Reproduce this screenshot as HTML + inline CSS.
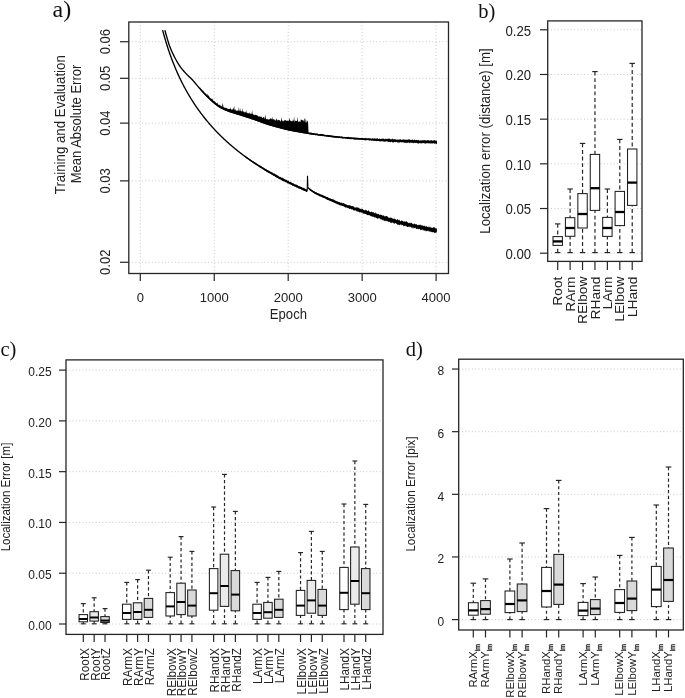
<!DOCTYPE html>
<html><head><meta charset="utf-8"><title>figure</title>
<style>html,body{margin:0;padding:0;background:#fff;overflow:hidden}svg{display:block} text{-webkit-font-smoothing:antialiased}</style></head>
<body><svg width="685" height="698" viewBox="0 0 685 698" style="will-change:transform">
<rect width="685" height="698" fill="#fff"/>
<line x1="128.80" y1="262.27" x2="448.50" y2="262.27" stroke="#c8c8c8" stroke-width="1" stroke-dasharray="1 2.3"/>
<line x1="128.80" y1="180.87" x2="448.50" y2="180.87" stroke="#c8c8c8" stroke-width="1" stroke-dasharray="1 2.3"/>
<line x1="128.80" y1="123.12" x2="448.50" y2="123.12" stroke="#c8c8c8" stroke-width="1" stroke-dasharray="1 2.3"/>
<line x1="128.80" y1="78.32" x2="448.50" y2="78.32" stroke="#c8c8c8" stroke-width="1" stroke-dasharray="1 2.3"/>
<line x1="128.80" y1="41.72" x2="448.50" y2="41.72" stroke="#c8c8c8" stroke-width="1" stroke-dasharray="1 2.3"/>
<line x1="140.30" y1="22.00" x2="140.30" y2="273.50" stroke="#c8c8c8" stroke-width="1" stroke-dasharray="1 2.3"/>
<line x1="214.25" y1="22.00" x2="214.25" y2="273.50" stroke="#c8c8c8" stroke-width="1" stroke-dasharray="1 2.3"/>
<line x1="288.20" y1="22.00" x2="288.20" y2="273.50" stroke="#c8c8c8" stroke-width="1" stroke-dasharray="1 2.3"/>
<line x1="362.15" y1="22.00" x2="362.15" y2="273.50" stroke="#c8c8c8" stroke-width="1" stroke-dasharray="1 2.3"/>
<line x1="436.10" y1="22.00" x2="436.10" y2="273.50" stroke="#c8c8c8" stroke-width="1" stroke-dasharray="1 2.3"/>
<polyline points="164.90,30.30 165.30,31.77 165.70,33.21 166.10,34.63 166.50,36.02 166.90,37.38 167.30,38.74 167.70,40.10 168.10,41.43 168.50,42.73 168.90,43.98 169.30,45.17 169.70,46.27 170.10,47.32 170.50,48.33 170.90,49.31 171.30,50.26 171.70,51.17 172.10,52.06 172.50,52.93 172.90,53.77 173.30,54.59 173.70,55.40 174.10,56.19 174.50,56.98 174.90,57.75 175.30,58.51 175.70,59.25 176.10,59.99 176.50,60.71 176.90,61.41 177.30,62.11 177.70,62.78 178.10,63.44 178.50,64.09 178.90,64.72 179.30,65.33 179.70,65.92 180.10,66.50 180.50,67.06 180.90,67.60 181.30,68.12 181.70,68.63 182.10,69.13 182.50,69.61 182.90,70.09 183.30,70.55 183.70,71.01 184.10,71.46 184.50,71.91 184.90,72.35 185.30,72.79 185.70,73.23 186.10,73.65 186.50,74.07 186.90,74.47 187.30,74.87 187.70,75.26 188.10,75.65 188.50,76.03 188.90,76.42 189.30,76.80 189.70,77.18 190.10,77.57 190.50,77.96 190.90,78.35 191.30,78.75 191.70,79.16 192.10,79.58 192.50,80.01 192.90,80.45 193.30,80.89 193.70,81.35 194.10,81.81 194.50,82.28 194.90,82.75 195.30,83.23 195.70,83.71 196.10,84.19 196.50,84.67 196.90,85.15 197.30,85.63 197.70,86.11 198.10,86.59 198.50,87.06 198.90,87.53 199.30,87.99 199.70,88.44 200.10,88.90 200.50,89.35 200.90,89.80 201.30,90.26 201.70,90.71 202.10,91.16 202.50,91.60 202.90,92.04 203.30,92.48 203.70,92.92 204.10,93.35 204.50,93.77 204.90,94.20 205.30,94.61 205.70,95.03 206.10,95.44 206.50,95.84 206.90,96.25 207.30,96.65 207.70,97.05 208.10,97.44 208.50,97.83 208.90,98.22 209.30,98.60 209.70,98.98 210.10,99.36 210.50,99.73 210.90,100.09 211.30,100.45 211.70,100.81 212.10,101.17 212.50,101.53 212.90,101.88 213.30,102.22 213.70,102.56 214.10,102.90 214.50,103.23 214.90,103.55 215.30,103.87 215.70,104.18 216.10,104.47 216.50,104.77 216.90,105.06 217.30,105.34 217.70,105.63 218.10,105.90 218.50,106.17 218.90,106.44 219.30,106.69 219.70,106.94 220.10,107.19 220.50,107.42 220.90,107.65 221.30,107.86 221.70,108.07 222.10,108.28 222.50,108.48 222.90,108.68 223.30,108.88 223.70,109.07 224.10,109.25 224.50,109.43 224.90,109.61 225.30,109.79 225.70,109.96 226.10,110.12 226.50,110.29 226.90,110.45 227.30,110.61 227.70,110.76 228.10,110.91 228.50,111.06 228.90,111.21 229.30,111.35 229.70,111.49 230.10,111.63 230.50,111.77 230.90,111.90 231.30,112.03 231.70,112.16 232.10,112.29 232.50,112.41 232.90,112.54 233.30,112.66 233.70,112.79 234.10,112.91 234.50,113.03 234.90,113.15 235.30,113.27 235.70,113.39 236.10,113.50 236.50,113.62 236.90,113.74 237.30,113.86 237.70,113.98 238.10,114.10 238.50,114.22 238.90,114.34 239.30,114.46 239.70,114.59 240.10,114.71 240.50,114.84 240.90,114.97 241.30,115.10 241.70,115.23 242.10,115.36 242.50,115.48 242.90,115.61 243.30,115.74 243.70,115.87 244.10,116.00 244.50,116.13 244.90,116.26 245.30,116.39 245.70,116.52 246.10,116.65 246.50,116.78 246.90,116.91 247.30,117.04 247.70,117.17 248.10,117.30 248.50,117.43 248.90,117.56 249.30,117.69 249.70,117.82 250.10,117.96 250.50,118.09 250.90,118.22 251.30,118.36 251.70,118.49 252.10,118.62 252.50,118.76 252.90,118.89 253.30,119.03 253.70,119.16 254.10,119.30 254.50,119.44 254.90,119.58 255.30,119.72 255.70,119.86 256.10,120.00 256.50,120.14 256.90,120.29 257.30,120.43 257.70,120.58 258.10,120.73 258.50,120.87 258.90,121.02 259.30,121.17 259.70,121.32 260.10,121.47 260.50,121.61 260.90,121.76 261.30,121.91 261.70,122.05 262.10,122.20 262.50,122.35 262.90,122.49 263.30,122.64 263.70,122.78 264.10,122.92 264.50,123.06 264.90,123.20 265.30,123.34 265.70,123.47 266.10,123.61 266.50,123.74 266.90,123.87 267.30,124.00 267.70,124.13 268.10,124.25 268.50,124.38 268.90,124.50 269.30,124.63 269.70,124.75 270.10,124.87 270.50,124.99 270.90,125.11 271.30,125.23 271.70,125.35 272.10,125.46 272.50,125.58 272.90,125.70 273.30,125.81 273.70,125.92 274.10,126.04 274.50,126.15 274.90,126.26 275.30,126.37 275.70,126.48 276.10,126.59 276.50,126.70 276.90,126.81 277.30,126.92 277.70,127.03 278.10,127.13 278.50,127.24 278.90,127.35 279.30,127.45 279.70,127.56 280.10,127.67 280.50,127.77 280.90,127.88 281.30,127.98 281.70,128.09 282.10,128.19 282.50,128.29 282.90,128.40 283.30,128.50 283.70,128.60 284.10,128.70 284.50,128.80 284.90,128.90 285.30,129.00 285.70,129.09 286.10,129.19 286.50,129.28 286.90,129.38 287.30,129.47 287.70,129.56 288.10,129.65 288.50,129.74 288.90,129.83 289.30,129.92 289.70,130.00 290.10,130.08 290.50,130.17 290.90,130.25 291.30,130.33 291.70,130.41 292.10,130.48 292.50,130.56 292.90,130.64 293.30,130.71 293.70,130.79 294.10,130.86 294.50,130.93 294.90,131.01 295.30,131.08 295.70,131.15 296.10,131.22 296.50,131.29 296.90,131.36 297.30,131.43 297.70,131.50 298.10,131.57 298.50,131.64 298.90,131.71 299.30,131.78 299.70,131.85 300.10,131.92 300.50,131.99 300.90,132.06 301.30,132.13 301.70,132.20 302.10,132.26 302.50,132.33 302.90,132.40 303.30,132.47 303.70,132.54 304.10,132.60 304.50,132.67 304.90,132.74 305.30,132.80 305.70,132.87 306.10,132.93 306.50,133.00 306.90,133.06 307.30,133.12 307.70,133.18 308.10,133.25 308.50,133.31 308.90,133.37 309.30,133.43 309.70,133.48 310.10,133.54 310.50,133.60 310.90,133.66 311.30,133.72 311.70,133.77 312.10,133.83 312.50,133.89 312.90,133.94 313.30,134.00 313.70,134.05 314.10,134.11 314.50,134.17 314.90,134.22 315.30,134.27 315.70,134.33 316.10,134.38 316.50,134.44 316.90,134.49 317.30,134.54 317.70,134.60 318.10,134.65 318.50,134.70 318.90,134.76 319.30,134.81 319.70,134.86 320.10,134.91 320.50,134.97 320.90,135.02 321.30,135.07 321.70,135.12 322.10,135.18 322.50,135.23 322.90,135.28 323.30,135.34 323.70,135.39 324.10,135.44 324.50,135.50 324.90,135.55 325.30,135.60 325.70,135.66 326.10,135.71 326.50,135.76 326.90,135.81 327.30,135.87 327.70,135.92 328.10,135.97 328.50,136.02 328.90,136.07 329.30,136.12 329.70,136.17 330.10,136.22 330.50,136.27 330.90,136.32 331.30,136.37 331.70,136.42 332.10,136.46 332.50,136.51 332.90,136.56 333.30,136.60 333.70,136.65 334.10,136.70 334.50,136.74 334.90,136.78 335.30,136.83 335.70,136.87 336.10,136.91 336.50,136.95 336.90,136.99 337.30,137.03 337.70,137.07 338.10,137.11 338.50,137.15 338.90,137.18 339.30,137.22 339.70,137.26 340.10,137.30 340.50,137.33 340.90,137.37 341.30,137.41 341.70,137.44 342.10,137.48 342.50,137.52 342.90,137.55 343.30,137.59 343.70,137.62 344.10,137.66 344.50,137.69 344.90,137.73 345.30,137.76 345.70,137.80 346.10,137.83 346.50,137.86 346.90,137.90 347.30,137.93 347.70,137.96 348.10,137.99 348.50,138.03 348.90,138.06 349.30,138.09 349.70,138.12 350.10,138.15 350.50,138.18 350.90,138.22 351.30,138.25 351.70,138.28 352.10,138.31 352.50,138.34 352.90,138.37 353.30,138.40 353.70,138.43 354.10,138.46 354.50,138.49 354.90,138.52 355.30,138.54 355.70,138.57 356.10,138.60 356.50,138.63 356.90,138.66 357.30,138.69 357.70,138.71 358.10,138.74 358.50,138.77 358.90,138.80 359.30,138.82 359.70,138.85 360.10,138.88 360.50,138.90 360.90,138.93 361.30,138.95 361.70,138.98 362.10,139.01 362.50,139.03 362.90,139.06 363.30,139.08 363.70,139.11 364.10,139.13 364.50,139.16 364.90,139.18 365.30,139.21 365.70,139.23 366.10,139.26 366.50,139.28 366.90,139.31 367.30,139.33 367.70,139.36 368.10,139.38 368.50,139.40 368.90,139.43 369.30,139.45 369.70,139.48 370.10,139.50 370.50,139.52 370.90,139.55 371.30,139.57 371.70,139.59 372.10,139.62 372.50,139.64 372.90,139.66 373.30,139.69 373.70,139.71 374.10,139.73 374.50,139.75 374.90,139.78 375.30,139.80 375.70,139.82 376.10,139.84 376.50,139.86 376.90,139.89 377.30,139.91 377.70,139.93 378.10,139.95 378.50,139.97 378.90,139.99 379.30,140.02 379.70,140.04 380.10,140.06 380.50,140.08 380.90,140.10 381.30,140.12 381.70,140.14 382.10,140.16 382.50,140.18 382.90,140.20 383.30,140.22 383.70,140.25 384.10,140.27 384.50,140.29 384.90,140.31 385.30,140.33 385.70,140.35 386.10,140.37 386.50,140.38 386.90,140.40 387.30,140.42 387.70,140.44 388.10,140.46 388.50,140.48 388.90,140.50 389.30,140.52 389.70,140.54 390.10,140.56 390.50,140.58 390.90,140.60 391.30,140.61 391.70,140.63 392.10,140.65 392.50,140.67 392.90,140.69 393.30,140.71 393.70,140.72 394.10,140.74 394.50,140.76 394.90,140.78 395.30,140.80 395.70,140.81 396.10,140.83 396.50,140.85 396.90,140.87 397.30,140.88 397.70,140.90 398.10,140.92 398.50,140.94 398.90,140.95 399.30,140.97 399.70,140.99 400.10,141.00 400.50,141.02 400.90,141.04 401.30,141.05 401.70,141.07 402.10,141.09 402.50,141.10 402.90,141.12 403.30,141.14 403.70,141.15 404.10,141.17 404.50,141.19 404.90,141.20 405.30,141.22 405.70,141.24 406.10,141.25 406.50,141.27 406.90,141.28 407.30,141.30 407.70,141.32 408.10,141.33 408.50,141.35 408.90,141.36 409.30,141.38 409.70,141.39 410.10,141.41 410.50,141.42 410.90,141.44 411.30,141.46 411.70,141.47 412.10,141.49 412.50,141.50 412.90,141.52 413.30,141.53 413.70,141.55 414.10,141.56 414.50,141.58 414.90,141.59 415.30,141.61 415.70,141.62 416.10,141.64 416.50,141.65 416.90,141.66 417.30,141.68 417.70,141.69 418.10,141.71 418.50,141.72 418.90,141.74 419.30,141.75 419.70,141.76 420.10,141.78 420.50,141.79 420.90,141.81 421.30,141.82 421.70,141.83 422.10,141.85 422.50,141.86 422.90,141.87 423.30,141.89 423.70,141.90 424.10,141.91 424.50,141.93 424.90,141.94 425.30,141.95 425.70,141.97 426.10,141.98 426.50,141.99 426.90,142.01 427.30,142.02 427.70,142.03 428.10,142.04 428.50,142.06 428.90,142.07 429.30,142.08 429.70,142.09 430.10,142.10 430.50,142.12 430.90,142.13 431.30,142.14 431.70,142.15 432.10,142.16 432.50,142.18 432.90,142.19 433.30,142.20 433.70,142.21 434.10,142.22 434.50,142.23 434.90,142.24 435.30,142.25 435.70,142.27 436.10,142.28 436.50,142.29 436.90,142.30" fill="none" stroke="#000" stroke-width="1.35"/>
<polygon points="200.10,87.52 200.50,87.85 200.90,88.65 201.30,89.31 201.70,89.15 202.10,89.96 202.50,90.43 202.90,90.67 203.30,90.73 203.70,91.43 204.10,92.15 204.50,92.27 204.90,93.11 205.30,93.19 205.70,93.46 206.10,93.96 206.50,94.72 206.90,94.60 207.30,93.43 207.70,95.78 208.10,95.61 208.50,96.02 208.90,95.02 209.30,97.01 209.70,97.49 210.10,98.08 210.50,98.23 210.90,98.22 211.30,98.44 211.70,99.07 212.10,99.36 212.50,99.89 212.90,98.30 213.30,100.74 213.70,101.01 214.10,101.07 214.50,101.26 214.90,101.53 215.30,102.41 215.70,102.12 216.10,102.98 216.50,102.92 216.90,103.40 217.30,101.93 217.70,103.89 218.10,104.27 218.50,104.75 218.90,105.01 219.30,104.56 219.70,105.20 220.10,105.11 220.50,105.55 220.90,105.94 221.30,105.84 221.70,106.51 222.10,106.82 222.50,103.66 222.90,103.22 223.30,106.81 223.70,107.04 224.10,107.62 224.50,107.81 224.90,107.40 225.30,107.99 225.70,107.66 226.10,107.76 226.50,108.22 226.90,108.16 227.30,108.51 227.70,108.63 228.10,108.99 228.50,108.75 228.90,109.05 229.30,108.83 229.70,108.96 230.10,109.27 230.50,107.32 230.90,109.00 231.30,109.70 231.70,109.49 232.10,109.43 232.50,109.26 232.90,109.60 233.30,107.31 233.70,109.63 234.10,105.49 234.50,109.73 234.90,110.05 235.30,109.00 235.70,110.45 236.10,110.59 236.50,110.81 236.90,110.78 237.30,111.00 237.70,110.18 238.10,110.38 238.50,110.66 238.90,106.87 239.30,110.46 239.70,111.48 240.10,107.91 240.50,110.87 240.90,110.88 241.30,111.76 241.70,111.02 242.10,111.45 242.50,108.02 242.90,111.56 243.30,111.45 243.70,111.63 244.10,111.51 244.50,112.62 244.90,112.49 245.30,111.71 245.70,112.65 246.10,109.61 246.50,113.00 246.90,112.24 247.30,112.91 247.70,113.21 248.10,113.17 248.50,113.59 248.90,113.05 249.30,113.80 249.70,111.95 250.10,114.01 250.50,113.87 250.90,113.23 251.30,114.19 251.70,113.36 252.10,110.02 252.50,113.74 252.90,114.01 253.30,114.97 253.70,114.16 254.10,114.96 254.50,114.43 254.90,115.41 255.30,114.63 255.70,114.87 256.10,114.71 256.50,115.07 256.90,115.40 257.30,115.38 257.70,115.57 258.10,116.18 258.50,116.80 258.90,116.24 259.30,116.37 259.70,116.75 260.10,116.14 260.50,117.35 260.90,116.29 261.30,116.81 261.70,116.64 262.10,117.93 262.50,118.02 262.90,117.50 263.30,117.37 263.70,117.25 264.10,116.21 264.50,118.77 264.90,118.48 265.30,113.91 265.70,117.87 266.10,118.93 266.50,119.07 266.90,119.47 267.30,119.45 267.70,118.45 268.10,119.56 268.50,119.50 268.90,119.54 269.30,119.06 269.70,119.48 270.10,118.78 270.50,118.04 270.90,118.76 271.30,118.76 271.70,119.58 272.10,116.49 272.50,118.43 272.90,119.80 273.30,119.33 273.70,119.37 274.10,119.26 274.50,119.50 274.90,120.58 275.30,120.64 275.70,119.88 276.10,119.28 276.50,118.17 276.90,120.05 277.30,120.66 277.70,119.88 278.10,119.42 278.50,120.51 278.90,119.68 279.30,120.04 279.70,120.31 280.10,121.35 280.50,121.49 280.90,120.55 281.30,120.03 281.70,116.83 282.10,120.42 282.50,121.61 282.90,120.29 283.30,121.59 283.70,121.27 284.10,119.76 284.50,120.77 284.90,120.18 285.30,119.95 285.70,120.41 286.10,120.28 286.50,120.97 286.90,121.01 287.30,121.06 287.70,120.11 288.10,121.19 288.50,121.09 288.90,120.03 289.30,117.55 289.70,119.83 290.10,120.64 290.50,120.33 290.90,121.05 291.30,121.42 291.70,121.05 292.10,121.28 292.50,121.24 292.90,119.62 293.30,121.25 293.70,119.80 294.10,116.28 294.50,121.47 294.90,121.81 295.30,119.96 295.70,121.02 296.10,121.07 296.50,120.81 296.90,121.51 297.30,116.43 297.70,119.99 298.10,122.32 298.50,121.76 298.90,121.36 299.30,121.74 299.70,120.90 300.10,121.93 300.50,121.67 300.90,119.02 301.30,120.13 301.70,119.55 302.10,120.15 302.50,119.65 302.90,120.65 303.30,120.22 303.70,121.87 304.10,118.28 304.50,118.69 304.90,122.19 305.30,117.46 305.70,122.24 306.10,122.77 306.50,122.27 306.90,120.08 307.30,120.69 307.70,121.40 308.10,122.31 308.50,132.17 308.90,132.74 309.30,132.47 309.70,132.76 310.10,132.41 310.50,132.81 310.90,132.56 311.30,132.52 311.70,132.77 312.10,132.89 312.50,132.92 312.90,133.04 313.30,132.97 313.70,133.20 314.10,133.06 314.50,133.52 314.90,133.51 315.30,133.41 315.70,133.56 316.10,133.37 316.50,133.59 316.90,133.42 317.30,133.86 317.70,133.58 318.10,133.89 318.50,133.94 318.90,134.08 319.30,134.14 319.70,134.24 320.10,133.81 320.50,134.20 320.90,134.05 321.30,134.09 321.70,134.01 322.10,134.12 322.50,134.19 322.90,134.25 323.30,134.50 323.70,134.21 324.10,134.72 324.50,134.73 324.90,134.43 325.30,134.83 325.70,135.01 326.10,134.95 326.50,135.12 326.90,135.08 327.30,134.71 327.70,134.97 328.10,135.32 328.50,134.89 328.90,134.99 329.30,135.16 329.70,135.05 330.10,135.31 330.50,135.22 330.90,135.56 331.30,135.49 331.70,135.24 332.10,135.84 332.50,135.82 332.90,135.62 333.30,135.66 333.70,135.86 334.10,135.64 334.50,135.66 334.90,136.06 335.30,135.93 335.70,135.90 336.10,136.23 336.50,135.91 336.90,136.23 337.30,136.10 337.70,136.13 338.10,136.02 338.50,136.48 338.90,136.48 339.30,136.08 339.70,136.46 340.10,136.42 340.50,136.69 340.90,136.48 341.30,136.36 341.70,136.76 342.10,136.29 342.50,136.85 342.90,136.77 343.30,136.98 343.70,136.93 344.10,136.66 344.50,136.99 344.90,136.96 345.30,137.03 345.70,136.92 346.10,136.88 346.50,137.24 346.90,136.84 347.30,137.09 347.70,137.12 348.10,136.84 348.50,136.98 348.90,137.37 349.30,137.13 349.70,137.43 350.10,137.27 350.50,137.00 350.90,137.54 351.30,137.59 351.70,137.48 352.10,137.69 352.50,137.37 352.90,137.43 353.30,137.46 353.70,137.42 354.10,137.76 354.50,137.64 354.90,137.38 355.30,137.78 355.70,137.41 356.10,137.78 356.50,137.79 356.90,137.60 357.30,137.82 357.70,137.85 358.10,138.10 358.50,137.83 358.90,137.71 359.30,138.08 359.70,138.07 360.10,138.05 360.50,137.91 360.90,138.25 361.30,137.86 361.70,137.95 362.10,138.12 362.50,138.23 362.90,138.02 363.30,138.34 363.70,138.41 364.10,138.34 364.50,138.36 364.90,138.32 365.30,137.84 365.70,138.53 366.10,138.14 366.50,138.35 366.90,138.61 367.30,138.22 367.70,138.50 368.10,138.62 368.50,137.98 368.90,138.55 369.30,138.72 369.70,137.98 370.10,138.25 370.50,138.53 370.90,138.62 371.30,138.72 371.70,138.75 372.10,138.09 372.50,138.59 372.90,138.21 373.30,138.43 373.70,138.84 374.10,138.43 374.50,138.23 374.90,138.51 375.30,138.19 375.70,138.89 376.10,138.28 376.50,138.62 376.90,139.03 377.30,138.15 377.70,138.27 378.10,138.81 378.50,139.12 378.90,138.95 379.30,138.66 379.70,138.28 380.10,138.91 380.50,138.70 380.90,139.18 381.30,138.64 381.70,138.72 382.10,138.81 382.50,138.29 382.90,139.14 383.30,138.43 383.70,138.55 384.10,139.12 384.50,139.34 384.90,139.16 385.30,138.31 385.70,139.34 386.10,138.68 386.50,139.15 386.90,138.83 387.30,138.88 387.70,138.72 388.10,138.43 388.50,138.93 388.90,138.50 389.30,138.58 389.70,138.68 390.10,138.84 390.50,139.51 390.90,138.95 391.30,139.19 391.70,139.32 392.10,139.53 392.50,138.52 392.90,138.62 393.30,139.49 393.70,139.48 394.10,138.69 394.50,139.14 394.90,139.16 395.30,139.65 395.70,138.85 396.10,139.66 396.50,139.53 396.90,139.64 397.30,139.38 397.70,139.66 398.10,139.57 398.50,139.38 398.90,139.66 399.30,139.60 399.70,139.51 400.10,138.95 400.50,139.91 400.90,138.85 401.30,139.69 401.70,140.05 402.10,139.83 402.50,139.54 402.90,139.74 403.30,139.16 403.70,139.48 404.10,139.52 404.50,139.67 404.90,139.73 405.30,140.08 405.70,139.32 406.10,139.94 406.50,139.40 406.90,139.79 407.30,140.09 407.70,139.45 408.10,139.28 408.50,139.79 408.90,139.26 409.30,139.54 409.70,139.27 410.10,140.37 410.50,139.70 410.90,139.84 411.30,139.80 411.70,140.03 412.10,139.76 412.50,139.38 412.90,139.83 413.30,140.09 413.70,140.40 414.10,139.78 414.50,139.64 414.90,139.52 415.30,140.46 415.70,140.08 416.10,140.02 416.50,139.99 416.90,139.64 417.30,139.97 417.70,140.14 418.10,140.59 418.50,140.02 418.90,139.79 419.30,140.68 419.70,140.53 420.10,140.39 420.50,140.04 420.90,140.79 421.30,140.39 421.70,140.17 422.10,139.94 422.50,140.51 422.90,140.32 423.30,140.17 423.70,140.37 424.10,140.22 424.50,139.79 424.90,140.45 425.30,139.89 425.70,140.40 426.10,140.40 426.50,140.65 426.90,140.01 427.30,140.00 427.70,140.42 428.10,140.10 428.50,139.90 428.90,140.70 429.30,140.02 429.70,140.94 430.10,140.81 430.50,140.35 430.90,140.17 431.30,140.57 431.70,139.96 432.10,140.55 432.50,140.70 432.90,140.52 433.30,140.09 433.70,140.96 434.10,140.37 434.50,140.15 434.90,140.12 435.30,141.25 435.70,140.11 436.10,141.20 436.50,140.19 436.90,140.44 436.90,143.97 436.50,144.06 436.10,143.81 435.70,143.85 435.30,143.50 434.90,143.37 434.50,143.94 434.10,143.38 433.70,143.19 433.30,143.17 432.90,143.37 432.50,143.31 432.10,143.89 431.70,143.13 431.30,143.48 430.90,143.17 430.50,143.84 430.10,143.37 429.70,143.44 429.30,143.41 428.90,143.08 428.50,143.74 428.10,143.00 427.70,143.01 427.30,143.47 426.90,143.17 426.50,143.01 426.10,143.75 425.70,143.60 425.30,143.49 424.90,143.39 424.50,143.13 424.10,143.34 423.70,143.15 423.30,142.84 422.90,143.57 422.50,142.84 422.10,143.34 421.70,143.19 421.30,143.46 420.90,142.88 420.50,143.53 420.10,143.21 419.70,142.90 419.30,143.29 418.90,143.42 418.50,143.42 418.10,143.39 417.70,143.29 417.30,143.46 416.90,142.62 416.50,143.22 416.10,142.80 415.70,142.65 415.30,143.18 414.90,142.57 414.50,142.74 414.10,142.73 413.70,143.23 413.30,143.30 412.90,142.42 412.50,142.70 412.10,143.13 411.70,142.65 411.30,142.52 410.90,142.38 410.50,142.39 410.10,143.20 409.70,143.15 409.30,142.65 408.90,142.55 408.50,142.50 408.10,142.65 407.70,142.68 407.30,142.77 406.90,142.88 406.50,142.55 406.10,143.04 405.70,142.79 405.30,142.63 404.90,142.56 404.50,142.86 404.10,142.64 403.70,142.18 403.30,142.76 402.90,142.12 402.50,142.54 402.10,142.07 401.70,142.12 401.30,142.82 400.90,141.96 400.50,142.04 400.10,142.51 399.70,142.34 399.30,142.68 398.90,142.50 398.50,142.65 398.10,142.18 397.70,142.40 397.30,142.17 396.90,142.29 396.50,141.87 396.10,141.74 395.70,142.54 395.30,141.81 394.90,141.94 394.50,141.84 394.10,142.20 393.70,142.41 393.30,142.48 392.90,142.31 392.50,142.45 392.10,142.15 391.70,142.09 391.30,141.58 390.90,141.84 390.50,142.20 390.10,142.29 389.70,141.74 389.30,141.67 388.90,141.65 388.50,141.78 388.10,142.18 387.70,141.47 387.30,141.55 386.90,141.60 386.50,141.27 386.10,141.27 385.70,141.56 385.30,141.63 384.90,141.55 384.50,141.71 384.10,141.78 383.70,141.55 383.30,141.56 382.90,141.36 382.50,141.11 382.10,141.74 381.70,141.36 381.30,140.98 380.90,141.68 380.50,140.96 380.10,141.58 379.70,141.08 379.30,141.47 378.90,141.32 378.50,141.09 378.10,141.11 377.70,141.00 377.30,140.86 376.90,141.27 376.50,140.76 376.10,141.17 375.70,141.07 375.30,140.60 374.90,140.54 374.50,140.94 374.10,141.13 373.70,140.62 373.30,140.84 372.90,140.85 372.50,140.42 372.10,140.56 371.70,140.41 371.30,140.70 370.90,140.27 370.50,140.25 370.10,140.26 369.70,140.74 369.30,140.30 368.90,140.56 368.50,140.36 368.10,140.08 367.70,140.23 367.30,140.05 366.90,140.00 366.50,140.14 366.10,140.33 365.70,140.19 365.30,140.40 364.90,140.18 364.50,140.36 364.10,139.92 363.70,140.28 363.30,140.10 362.90,140.00 362.50,139.84 362.10,139.93 361.70,139.62 361.30,139.72 360.90,139.89 360.50,139.60 360.10,139.64 359.70,139.83 359.30,139.56 358.90,139.51 358.50,139.70 358.10,139.72 357.70,139.38 357.30,139.48 356.90,139.49 356.50,139.42 356.10,139.67 355.70,139.65 355.30,139.37 354.90,139.61 354.50,139.48 354.10,139.46 353.70,139.53 353.30,139.37 352.90,139.20 352.50,138.97 352.10,139.37 351.70,139.35 351.30,138.89 350.90,139.27 350.50,139.13 350.10,138.82 349.70,139.08 349.30,139.16 348.90,138.88 348.50,138.75 348.10,138.75 347.70,139.00 347.30,138.91 346.90,138.62 346.50,138.63 346.10,138.57 345.70,138.57 345.30,138.43 344.90,138.35 344.50,138.36 344.10,138.51 343.70,138.45 343.30,138.62 342.90,138.54 342.50,138.52 342.10,138.46 341.70,138.22 341.30,138.23 340.90,138.23 340.50,138.02 340.10,138.36 339.70,137.96 339.30,137.84 338.90,138.21 338.50,137.87 338.10,138.17 337.70,137.72 337.30,137.97 336.90,137.78 336.50,137.75 336.10,137.78 335.70,137.88 335.30,137.51 334.90,137.67 334.50,137.61 334.10,137.59 333.70,137.54 333.30,137.53 332.90,137.64 332.50,137.15 332.10,137.26 331.70,137.18 331.30,137.20 330.90,137.33 330.50,136.91 330.10,137.01 329.70,136.77 329.30,137.15 328.90,136.70 328.50,136.86 328.10,136.63 327.70,136.77 327.30,136.60 326.90,136.78 326.50,136.59 326.10,136.39 325.70,136.37 325.30,136.36 324.90,136.37 324.50,136.33 324.10,136.41 323.70,136.35 323.30,135.95 322.90,136.23 322.50,136.02 322.10,136.10 321.70,135.87 321.30,135.90 320.90,135.78 320.50,135.95 320.10,135.56 319.70,135.74 319.30,135.67 318.90,135.76 318.50,135.65 318.10,135.72 317.70,135.30 317.30,135.54 316.90,135.21 316.50,135.04 316.10,135.41 315.70,135.38 315.30,135.34 314.90,134.97 314.50,134.83 314.10,134.88 313.70,135.08 313.30,134.95 312.90,134.55 312.50,134.66 312.10,134.91 311.70,134.71 311.30,134.62 310.90,134.72 310.50,134.22 310.10,134.20 309.70,134.56 309.30,134.41 308.90,134.30 308.50,134.24 308.10,134.05 307.70,133.98 307.30,133.92 306.90,133.86 306.50,133.80 306.10,133.73 305.70,133.67 305.30,133.60 304.90,133.54 304.50,133.47 304.10,133.40 303.70,133.34 303.30,133.27 302.90,133.20 302.50,133.13 302.10,133.06 301.70,133.00 301.30,132.93 300.90,132.86 300.50,132.79 300.10,132.72 299.70,132.65 299.30,132.58 298.90,132.51 298.50,132.44 298.10,132.37 297.70,132.30 297.30,132.23 296.90,132.16 296.50,132.09 296.10,132.02 295.70,131.95 295.30,131.88 294.90,131.81 294.50,131.73 294.10,131.66 293.70,131.59 293.30,131.51 292.90,131.44 292.50,131.36 292.10,131.28 291.70,131.21 291.30,131.13 290.90,131.05 290.50,130.97 290.10,130.88 289.70,130.80 289.30,130.72 288.90,130.63 288.50,130.54 288.10,130.45 287.70,130.36 287.30,130.27 286.90,130.18 286.50,130.08 286.10,129.99 285.70,129.89 285.30,129.80 284.90,129.70 284.50,129.60 284.10,129.50 283.70,129.40 283.30,129.30 282.90,129.20 282.50,129.09 282.10,128.99 281.70,128.89 281.30,128.78 280.90,128.68 280.50,128.57 280.10,128.47 279.70,128.36 279.30,128.25 278.90,128.15 278.50,128.04 278.10,127.93 277.70,127.83 277.30,127.72 276.90,127.61 276.50,127.50 276.10,127.39 275.70,127.28 275.30,127.17 274.90,127.06 274.50,126.95 274.10,126.84 273.70,126.72 273.30,126.61 272.90,126.50 272.50,126.38 272.10,126.26 271.70,126.15 271.30,126.03 270.90,125.91 270.50,125.79 270.10,125.67 269.70,125.55 269.30,125.43 268.90,125.30 268.50,125.18 268.10,125.05 267.70,124.93 267.30,124.80 266.90,124.67 266.50,124.54 266.10,124.41 265.70,124.27 265.30,124.14 264.90,124.00 264.50,123.86 264.10,123.72 263.70,123.58 263.30,123.44 262.90,123.29 262.50,123.15 262.10,123.00 261.70,122.85 261.30,122.71 260.90,122.56 260.50,122.41 260.10,122.27 259.70,122.12 259.30,121.97 258.90,121.82 258.50,121.67 258.10,121.53 257.70,121.38 257.30,121.23 256.90,121.09 256.50,120.94 256.10,120.80 255.70,120.66 255.30,120.52 254.90,120.38 254.50,120.24 254.10,120.10 253.70,119.96 253.30,119.83 252.90,119.69 252.50,119.56 252.10,119.42 251.70,119.29 251.30,119.16 250.90,119.02 250.50,118.89 250.10,118.76 249.70,118.62 249.30,118.49 248.90,118.36 248.50,118.23 248.10,118.10 247.70,117.97 247.30,117.84 246.90,117.71 246.50,117.58 246.10,117.45 245.70,117.32 245.30,117.19 244.90,117.06 244.50,116.93 244.10,116.80 243.70,116.67 243.30,116.54 242.90,116.41 242.50,116.28 242.10,116.16 241.70,116.03 241.30,115.90 240.90,115.77 240.50,115.64 240.10,115.51 239.70,115.39 239.30,115.26 238.90,115.14 238.50,115.02 238.10,114.90 237.70,114.78 237.30,114.66 236.90,114.54 236.50,114.42 236.10,114.30 235.70,114.19 235.30,114.07 234.90,113.95 234.50,113.83 234.10,113.71 233.70,113.59 233.30,113.46 232.90,113.34 232.50,113.21 232.10,113.09 231.70,112.96 231.30,112.83 230.90,112.70 230.50,112.57 230.10,112.43 229.70,112.29 229.30,112.15 228.90,112.01 228.50,111.86 228.10,111.71 227.70,111.56 227.30,111.41 226.90,111.25 226.50,111.09 226.10,110.92 225.70,110.76 225.30,110.59 224.90,110.41 224.50,110.23 224.10,110.05 223.70,109.87 223.30,109.68 222.90,109.48 222.50,109.28 222.10,109.08 221.70,108.87 221.30,108.66 220.90,108.45 220.50,108.22 220.10,107.99 219.70,107.74 219.30,107.49 218.90,107.24 218.50,106.97 218.10,106.70 217.70,106.43 217.30,106.14 216.90,105.86 216.50,105.57 216.10,105.27 215.70,104.98 215.30,104.67 214.90,104.35 214.50,104.03 214.10,103.70 213.70,103.36 213.30,103.02 212.90,102.68 212.50,102.33 212.10,101.97 211.70,101.61 211.30,101.25 210.90,100.89 210.50,100.53 210.10,100.16 209.70,99.78 209.30,99.40 208.90,99.02 208.50,98.63 208.10,98.24 207.70,97.85 207.30,97.45 206.90,97.05 206.50,96.64 206.10,96.24 205.70,95.83 205.30,95.41 204.90,95.00 204.50,94.57 204.10,94.15 203.70,93.72 203.30,93.28 202.90,92.84 202.50,92.40 202.10,91.96 201.70,91.51 201.30,91.06 200.90,90.60 200.50,90.15 200.10,89.70" fill="#000"/>
<polyline points="162.60,30.09 163.00,31.59 163.40,33.07 163.80,34.52 164.20,35.95 164.60,37.35 165.00,38.73 165.40,40.09 165.80,41.42 166.20,42.74 166.60,44.03 167.00,45.30 167.40,46.55 167.80,47.79 168.20,49.00 168.60,50.20 169.00,51.38 169.40,52.54 169.80,53.69 170.20,54.82 170.60,55.93 171.00,57.03 171.40,58.12 171.80,59.19 172.20,60.25 172.60,61.29 173.00,62.32 173.40,63.34 173.80,64.34 174.20,65.33 174.60,66.31 175.00,67.28 175.40,68.24 175.80,69.18 176.20,70.12 176.60,71.04 177.00,71.95 177.40,72.86 177.80,73.75 178.20,74.63 178.60,75.51 179.00,76.37 179.40,77.22 179.80,78.07 180.20,78.90 180.60,79.73 181.00,80.55 181.40,81.36 181.80,82.16 182.20,82.96 182.60,83.74 183.00,84.52 183.40,85.29 183.80,86.06 184.20,86.81 184.60,87.56 185.00,88.30 185.40,89.04 185.80,89.77 186.20,90.49 186.60,91.20 187.00,91.91 187.40,92.61 187.80,93.31 188.20,94.00 188.60,94.68 189.00,95.36 189.40,96.03 189.80,96.70 190.20,97.36 190.60,98.01 191.00,98.66 191.40,99.30 191.80,99.94 192.20,100.58 192.60,101.20 193.00,101.83 193.40,102.45 193.80,103.06 194.20,103.67 194.60,104.27 195.00,104.87 195.40,105.46 195.80,106.05 196.20,106.64 196.60,107.22 197.00,107.79 197.40,108.37 197.80,108.93 198.20,109.50 198.60,110.06 199.00,110.61 199.40,111.16 199.80,111.71 200.20,112.25 200.60,112.79 201.00,113.33 201.40,113.86 201.80,114.39 202.20,114.91 202.60,115.43 203.00,115.95 203.40,116.46 203.80,116.97 204.20,117.48 204.60,117.98 205.00,118.48 205.40,118.98 205.80,119.47 206.20,119.96 206.60,120.45 207.00,120.93 207.40,121.41 207.80,121.89 208.20,122.37 208.60,122.84 209.00,123.31 209.40,123.77 209.80,124.23 210.20,124.69 210.60,125.15 211.00,125.61 211.40,126.06 211.80,126.51 212.20,126.95 212.60,127.39 213.00,127.83 213.40,128.27 213.80,128.71 214.20,129.14 214.60,129.57 215.00,130.00 215.40,130.42 215.80,130.85 216.20,131.27 216.60,131.68 217.00,132.10 217.40,132.51 217.80,132.92 218.20,133.33 218.60,133.74 219.00,134.14 219.40,134.54 219.80,134.94 220.20,135.34 220.60,135.74 221.00,136.13 221.40,136.52 221.80,136.91 222.20,137.30 222.60,137.68 223.00,138.06 223.40,138.44 223.80,138.82 224.20,139.20 224.60,139.57 225.00,139.95 225.40,140.32 225.80,140.68 226.20,141.05 226.60,141.42 227.00,141.78 227.40,142.14 227.80,142.50 228.20,142.86 228.60,143.21 229.00,143.57 229.40,143.92 229.80,144.27 230.20,144.62 230.60,144.97 231.00,145.31 231.40,145.65 231.80,146.00 232.20,146.34 232.60,146.68 233.00,147.01 233.40,147.35 233.80,147.68 234.20,148.01 234.60,148.34 235.00,148.67 235.40,149.00 235.80,149.33 236.20,149.65 236.60,149.97 237.00,150.30 237.40,150.62 237.80,150.93 238.20,151.25 238.60,151.57 239.00,151.88 239.40,152.19 239.80,152.51 240.20,152.82 240.60,153.12 241.00,153.43 241.40,153.74 241.80,154.04 242.20,154.34 242.60,154.65 243.00,154.95 243.40,155.25 243.80,155.54 244.20,155.84 244.60,156.14 245.00,156.43 245.40,156.72 245.80,157.01 246.20,157.30 246.60,157.59 247.00,157.88 247.40,158.17 247.80,158.45 248.20,158.74 248.60,159.02 249.00,159.30 249.40,159.58 249.80,159.86 250.20,160.14 250.60,160.42 251.00,160.69 251.40,160.97 251.80,161.24 252.20,161.51 252.60,161.78 253.00,162.05 253.40,162.32 253.80,162.59 254.20,162.86 254.60,163.12 255.00,163.39 255.40,163.65 255.80,163.92 256.20,164.18 256.60,164.44 257.00,164.70 257.40,164.96 257.80,165.21 258.20,165.47 258.60,165.73 259.00,165.98 259.40,166.24 259.80,166.49 260.20,166.74 260.60,166.99 261.00,167.24 261.40,167.49 261.80,167.74 262.20,167.98 262.60,168.23 263.00,168.48 263.40,168.72 263.80,168.96 264.20,169.21 264.60,169.45 265.00,169.69 265.40,169.93 265.80,170.17 266.20,170.40 266.60,170.64 267.00,170.88 267.40,171.11 267.80,171.35 268.20,171.58 268.60,171.81 269.00,172.05 269.40,172.28 269.80,172.51 270.20,172.74 270.60,172.96 271.00,173.19 271.40,173.42 271.80,173.65 272.20,173.87 272.60,174.10 273.00,174.32 273.40,174.54 273.80,174.76 274.20,174.99 274.60,175.21 275.00,175.43 275.40,175.65 275.80,175.86 276.20,176.08 276.60,176.30 277.00,176.51 277.40,176.73 277.80,176.94 278.20,177.16 278.60,177.37 279.00,177.58 279.40,177.79 279.80,178.01 280.20,178.22 280.60,178.43 281.00,178.63 281.40,178.84 281.80,179.05 282.20,179.26 282.60,179.46 283.00,179.67 283.40,179.87 283.80,180.08 284.20,180.28 284.60,180.48 285.00,180.68 285.40,180.89 285.80,181.09 286.20,181.29 286.60,181.49 287.00,181.69 287.40,181.88 287.80,182.08 288.20,182.28 288.60,182.47 289.00,182.67 289.40,182.86 289.80,183.06 290.20,183.25 290.60,183.44 291.00,183.64 291.40,183.83 291.80,184.02 292.20,184.21 292.60,184.40 293.00,184.59 293.40,184.78 293.80,184.97 294.20,185.16 294.60,185.34 295.00,185.53 295.40,185.71 295.80,185.90 296.20,186.08 296.60,186.27 297.00,186.45 297.40,186.64 297.80,186.82 298.20,187.00 298.60,187.18 299.00,187.36 299.40,187.54 299.80,187.72 300.20,187.90 300.60,188.08 301.00,188.26 301.40,188.43 301.80,188.61 302.20,188.79 302.60,188.96 303.00,189.14 303.40,189.31 303.80,189.49 304.20,189.66 304.60,189.84 305.00,190.01 305.40,190.18 305.80,190.35 306.20,190.52 306.60,190.69 307.00,190.87" fill="none" stroke="#000" stroke-width="1.35"/>
<polygon points="245.00,155.78 245.40,156.07 245.80,156.35 246.20,156.61 246.60,156.90 247.00,157.20 247.40,157.43 247.80,157.75 248.20,157.97 248.60,158.34 249.00,158.54 249.40,158.79 249.80,159.16 250.20,159.44 250.60,159.59 251.00,159.88 251.40,160.22 251.80,160.51 252.20,160.79 252.60,161.03 253.00,161.20 253.40,161.35 253.80,161.77 254.20,161.93 254.60,162.39 255.00,162.60 255.40,162.75 255.80,162.84 256.20,163.30 256.60,163.52 257.00,163.81 257.40,164.10 257.80,164.40 258.20,164.59 258.60,164.60 259.00,164.94 259.40,165.30 259.80,165.51 260.20,165.50 260.60,165.73 261.00,166.06 261.40,166.25 261.80,166.57 262.20,166.92 262.60,167.33 263.00,167.23 263.40,167.53 263.80,167.77 264.20,168.00 264.60,168.25 265.00,168.73 265.40,168.81 265.80,169.11 266.20,169.22 266.60,169.18 267.00,170.01 267.40,170.10 267.80,170.24 268.20,170.38 268.60,170.45 269.00,170.68 269.40,170.90 269.80,171.18 270.20,171.43 270.60,171.70 271.00,172.01 271.40,172.00 271.80,172.48 272.20,172.46 272.60,172.44 273.00,173.12 273.40,173.56 273.80,173.63 274.20,173.18 274.60,173.57 275.00,173.98 275.40,174.48 275.80,174.26 276.20,174.91 276.60,174.46 277.00,174.79 277.40,175.13 277.80,175.84 278.20,175.67 278.60,176.19 279.00,176.67 279.40,176.48 279.80,176.89 280.20,176.68 280.60,177.35 281.00,177.03 281.40,177.87 281.80,177.94 282.20,177.58 282.60,177.77 283.00,178.60 283.40,178.28 283.80,178.52 284.20,179.10 284.60,179.10 285.00,179.48 285.40,179.52 285.80,179.79 286.20,179.74 286.60,179.65 287.00,180.31 287.40,180.62 287.80,181.11 288.20,180.56 288.60,180.82 289.00,181.44 289.40,181.79 289.80,181.88 290.20,182.04 290.60,181.65 291.00,181.82 291.40,182.32 291.80,182.94 292.20,183.22 292.60,183.12 293.00,183.19 293.40,183.20 293.80,183.55 294.20,184.23 294.60,184.13 295.00,184.54 295.40,184.38 295.80,184.32 296.20,184.45 296.60,184.86 297.00,184.91 297.40,184.98 297.80,185.45 298.20,186.01 298.60,186.05 299.00,185.76 299.40,185.98 299.80,186.46 300.20,186.73 300.60,186.45 301.00,187.10 301.40,186.90 301.80,187.03 302.20,187.72 302.60,187.80 303.00,187.30 303.40,188.39 303.80,187.83 304.20,188.20 304.60,188.60 305.00,188.29 305.40,189.11 305.80,189.33 306.20,189.03 306.60,189.74 307.00,189.21 307.00,192.17 306.60,191.79 306.20,192.07 305.80,191.80 305.40,191.01 305.00,191.08 304.60,191.12 304.20,190.74 303.80,190.98 303.40,190.36 303.00,190.46 302.60,190.34 302.20,189.84 301.80,189.52 301.40,189.73 301.00,189.43 300.60,188.96 300.20,189.03 299.80,188.87 299.40,188.60 299.00,188.81 298.60,188.70 298.20,187.97 297.80,187.82 297.40,187.51 297.00,187.99 296.60,187.43 296.20,187.27 295.80,186.91 295.40,186.55 295.00,186.83 294.60,186.31 294.20,186.66 293.80,185.91 293.40,185.71 293.00,186.13 292.60,185.90 292.20,185.29 291.80,184.93 291.40,184.97 291.00,185.08 290.60,184.37 290.20,184.25 289.80,184.60 289.40,183.92 289.00,183.86 288.60,183.62 288.20,183.47 287.80,183.46 287.40,183.40 287.00,182.58 286.60,182.47 286.20,182.61 285.80,182.53 285.40,181.98 285.00,181.63 284.60,181.56 284.20,181.59 283.80,181.50 283.40,181.24 283.00,181.09 282.60,180.76 282.20,180.77 281.80,180.46 281.40,180.01 281.00,179.60 280.60,179.55 280.20,179.38 279.80,179.31 279.40,179.20 279.00,178.91 278.60,178.49 278.20,178.65 277.80,178.04 277.40,178.02 277.00,178.05 276.60,177.57 276.20,177.50 275.80,176.79 275.40,177.07 275.00,176.57 274.60,176.13 274.20,176.07 273.80,176.08 273.40,175.58 273.00,175.47 272.60,174.99 272.20,174.77 271.80,174.52 271.40,174.79 271.00,174.04 270.60,173.90 270.20,173.55 269.80,173.58 269.40,173.28 269.00,173.06 268.60,172.97 268.20,172.67 267.80,172.31 267.40,172.27 267.00,172.07 266.60,171.88 266.20,171.50 265.80,170.98 265.40,171.06 265.00,170.81 264.60,170.42 264.20,170.24 263.80,169.76 263.40,169.62 263.00,169.58 262.60,169.01 262.20,169.02 261.80,168.59 261.40,168.37 261.00,168.23 260.60,167.98 260.20,167.53 259.80,167.46 259.40,167.16 259.00,167.02 258.60,166.57 258.20,166.47 257.80,166.08 257.40,165.75 257.00,165.56 256.60,165.27 256.20,165.09 255.80,164.81 255.40,164.52 255.00,164.21 254.60,164.01 254.20,163.78 253.80,163.31 253.40,163.17 253.00,162.89 252.60,162.55 252.20,162.37 251.80,162.02 251.40,161.79 251.00,161.38 250.60,161.19 250.20,160.88 249.80,160.60 249.40,160.26 249.00,160.04 248.60,159.77 248.20,159.42 247.80,159.13 247.40,158.85 247.00,158.59 246.60,158.29 246.20,157.98 245.80,157.68 245.40,157.38 245.00,157.08" fill="#000"/>
<polyline points="307.2,191.6 307.5,175.8 307.9,186.5" fill="none" stroke="#000" stroke-width="1.1"/>
<polyline points="307.60,187.00 308.00,187.49 308.40,187.97 308.80,188.41 309.20,188.78 309.60,189.13 310.00,189.47 310.40,189.79 310.80,190.10 311.20,190.40 311.60,190.69 312.00,190.97 312.40,191.23 312.80,191.49 313.20,191.75 313.60,191.99 314.00,192.23 314.40,192.46 314.80,192.69 315.20,192.91 315.60,193.13 316.00,193.34 316.40,193.54 316.80,193.74 317.20,193.93 317.60,194.12 318.00,194.30 318.40,194.48 318.80,194.66 319.20,194.83 319.60,195.01 320.00,195.18 320.40,195.35 320.80,195.51 321.20,195.68 321.60,195.85 322.00,196.02 322.40,196.19 322.80,196.36 323.20,196.53 323.60,196.71 324.00,196.89 324.40,197.07 324.80,197.25 325.20,197.43 325.60,197.61 326.00,197.79 326.40,197.97 326.80,198.15 327.20,198.32 327.60,198.50 328.00,198.68 328.40,198.86 328.80,199.04 329.20,199.21 329.60,199.39 330.00,199.57 330.40,199.74 330.80,199.92 331.20,200.09 331.60,200.27 332.00,200.44 332.40,200.61 332.80,200.79 333.20,200.96 333.60,201.13 334.00,201.31 334.40,201.48 334.80,201.65 335.20,201.83 335.60,202.00 336.00,202.17 336.40,202.34 336.80,202.51 337.20,202.68 337.60,202.85 338.00,203.01 338.40,203.18 338.80,203.34 339.20,203.49 339.60,203.65 340.00,203.80 340.40,203.95 340.80,204.10 341.20,204.24 341.60,204.39 342.00,204.54 342.40,204.68 342.80,204.82 343.20,204.96 343.60,205.10 344.00,205.24 344.40,205.38 344.80,205.52 345.20,205.66 345.60,205.79 346.00,205.93 346.40,206.06 346.80,206.20 347.20,206.33 347.60,206.46 348.00,206.59 348.40,206.72 348.80,206.85 349.20,206.98 349.60,207.11 350.00,207.24 350.40,207.37 350.80,207.50 351.20,207.62 351.60,207.75 352.00,207.88 352.40,208.00 352.80,208.13 353.20,208.25 353.60,208.38 354.00,208.50 354.40,208.63 354.80,208.75 355.20,208.88 355.60,209.00 356.00,209.13 356.40,209.25 356.80,209.37 357.20,209.50 357.60,209.62 358.00,209.75 358.40,209.87 358.80,210.00 359.20,210.12 359.60,210.25 360.00,210.37 360.40,210.50 360.80,210.62 361.20,210.75 361.60,210.87 362.00,211.00 362.40,211.13 362.80,211.25 363.20,211.38 363.60,211.51 364.00,211.64 364.40,211.76 364.80,211.89 365.20,212.02 365.60,212.15 366.00,212.28 366.40,212.41 366.80,212.54 367.20,212.66 367.60,212.79 368.00,212.92 368.40,213.05 368.80,213.18 369.20,213.31 369.60,213.44 370.00,213.57 370.40,213.70 370.80,213.83 371.20,213.96 371.60,214.09 372.00,214.22 372.40,214.35 372.80,214.48 373.20,214.61 373.60,214.73 374.00,214.86 374.40,214.99 374.80,215.12 375.20,215.25 375.60,215.38 376.00,215.51 376.40,215.64 376.80,215.77 377.20,215.89 377.60,216.02 378.00,216.15 378.40,216.28 378.80,216.41 379.20,216.53 379.60,216.66 380.00,216.79 380.40,216.91 380.80,217.04 381.20,217.17 381.60,217.29 382.00,217.42 382.40,217.54 382.80,217.67 383.20,217.79 383.60,217.92 384.00,218.04 384.40,218.17 384.80,218.29 385.20,218.41 385.60,218.53 386.00,218.66 386.40,218.78 386.80,218.90 387.20,219.02 387.60,219.14 388.00,219.26 388.40,219.38 388.80,219.50 389.20,219.62 389.60,219.74 390.00,219.85 390.40,219.97 390.80,220.09 391.20,220.20 391.60,220.32 392.00,220.43 392.40,220.55 392.80,220.66 393.20,220.78 393.60,220.89 394.00,221.00 394.40,221.11 394.80,221.22 395.20,221.33 395.60,221.44 396.00,221.55 396.40,221.66 396.80,221.77 397.20,221.87 397.60,221.98 398.00,222.08 398.40,222.19 398.80,222.29 399.20,222.40 399.60,222.50 400.00,222.60 400.40,222.70 400.80,222.80 401.20,222.90 401.60,223.00 402.00,223.10 402.40,223.20 402.80,223.30 403.20,223.40 403.60,223.50 404.00,223.60 404.40,223.70 404.80,223.80 405.20,223.89 405.60,223.99 406.00,224.09 406.40,224.18 406.80,224.28 407.20,224.38 407.60,224.47 408.00,224.57 408.40,224.67 408.80,224.76 409.20,224.86 409.60,224.95 410.00,225.04 410.40,225.14 410.80,225.23 411.20,225.33 411.60,225.42 412.00,225.51 412.40,225.60 412.80,225.70 413.20,225.79 413.60,225.88 414.00,225.97 414.40,226.06 414.80,226.15 415.20,226.24 415.60,226.33 416.00,226.42 416.40,226.51 416.80,226.60 417.20,226.69 417.60,226.78 418.00,226.86 418.40,226.95 418.80,227.04 419.20,227.13 419.60,227.21 420.00,227.30 420.40,227.38 420.80,227.47 421.20,227.55 421.60,227.64 422.00,227.72 422.40,227.81 422.80,227.89 423.20,227.97 423.60,228.06 424.00,228.14 424.40,228.22 424.80,228.30 425.20,228.38 425.60,228.46 426.00,228.54 426.40,228.62 426.80,228.70 427.20,228.78 427.60,228.86 428.00,228.94 428.40,229.02 428.80,229.10 429.20,229.17 429.60,229.25 430.00,229.33 430.40,229.40 430.80,229.48 431.20,229.56 431.60,229.63 432.00,229.70 432.40,229.78 432.80,229.85 433.20,229.93 433.60,230.00 434.00,230.07 434.40,230.14 434.80,230.21 435.20,230.29 435.60,230.36 436.00,230.43 436.40,230.50 436.80,230.57" fill="none" stroke="#000" stroke-width="1.3"/>
<polygon points="309.20,187.94 309.60,188.13 310.00,188.52 310.40,188.69 310.80,189.06 311.20,189.55 311.60,189.84 312.00,190.07 312.40,190.29 312.80,190.38 313.20,190.86 313.60,190.95 314.00,191.28 314.40,191.52 314.80,191.52 315.20,192.04 315.60,192.15 316.00,192.13 316.40,192.32 316.80,192.52 317.20,192.94 317.60,193.10 318.00,193.06 318.40,193.52 318.80,193.56 319.20,193.51 319.60,193.77 320.00,194.15 320.40,194.44 320.80,194.47 321.20,194.62 321.60,194.57 322.00,194.98 322.40,194.83 322.80,195.14 323.20,195.14 323.60,195.50 324.00,195.84 324.40,195.95 324.80,196.08 325.20,196.32 325.60,196.47 326.00,196.48 326.40,196.90 326.80,196.88 327.20,196.93 327.60,197.02 328.00,197.30 328.40,197.79 328.80,197.90 329.20,198.16 329.60,198.40 330.00,198.09 330.40,198.67 330.80,198.36 331.20,198.97 331.60,198.95 332.00,199.07 332.40,199.15 332.80,199.29 333.20,199.44 333.60,199.59 334.00,199.59 334.40,200.26 334.80,200.24 335.20,200.61 335.60,200.69 336.00,200.80 336.40,200.96 336.80,201.47 337.20,201.41 337.60,201.52 338.00,201.23 338.40,201.97 338.80,201.97 339.20,201.88 339.60,201.95 340.00,202.72 340.40,202.44 340.80,202.69 341.20,202.44 341.60,203.08 342.00,202.57 342.40,203.55 342.80,203.15 343.20,203.11 343.60,203.36 344.00,203.33 344.40,203.60 344.80,204.18 345.20,203.99 345.60,204.22 346.00,204.37 346.40,204.47 346.80,204.68 347.20,204.91 347.60,205.09 348.00,205.35 348.40,205.06 348.80,205.47 349.20,205.33 349.60,204.97 350.00,205.65 350.40,205.78 350.80,205.34 351.20,206.25 351.60,205.96 352.00,205.70 352.40,206.19 352.80,205.99 353.20,206.65 353.60,206.16 354.00,206.40 354.40,207.41 354.80,207.50 355.20,207.68 355.60,207.58 356.00,207.36 356.40,207.01 356.80,207.74 357.20,207.36 357.60,207.41 358.00,207.80 358.40,207.58 358.80,208.36 359.20,207.85 359.60,208.74 360.00,208.76 360.40,208.84 360.80,209.33 361.20,208.27 361.60,209.06 362.00,209.75 362.40,208.83 362.80,208.81 363.20,209.94 363.60,209.53 364.00,209.98 364.40,210.19 364.80,210.39 365.20,209.57 365.60,209.95 366.00,210.62 366.40,209.82 366.80,210.47 367.20,210.97 367.60,211.35 368.00,210.52 368.40,210.40 368.80,210.52 369.20,211.28 369.60,212.02 370.00,211.24 370.40,212.36 370.80,212.16 371.20,211.44 371.60,211.70 372.00,212.22 372.40,212.49 372.80,211.99 373.20,211.94 373.60,212.28 374.00,213.03 374.40,212.74 374.80,213.61 375.20,212.43 375.60,212.58 376.00,213.96 376.40,213.61 376.80,213.12 377.20,214.45 377.60,213.57 378.00,214.35 378.40,213.52 378.80,214.37 379.20,215.14 379.60,214.74 380.00,214.16 380.40,214.61 380.80,215.07 381.20,215.02 381.60,215.22 382.00,214.58 382.40,215.32 382.80,216.14 383.20,215.60 383.60,215.30 384.00,215.64 384.40,216.63 384.80,215.70 385.20,215.99 385.60,216.52 386.00,216.37 386.40,216.06 386.80,216.02 387.20,216.39 387.60,216.54 388.00,217.12 388.40,217.93 388.80,217.32 389.20,217.79 389.60,217.95 390.00,217.57 390.40,217.16 390.80,218.29 391.20,217.79 391.60,217.68 392.00,218.27 392.40,218.95 392.80,218.04 393.20,218.44 393.60,219.26 394.00,218.42 394.40,219.30 394.80,218.36 395.20,219.13 395.60,219.34 396.00,219.36 396.40,220.01 396.80,220.27 397.20,219.36 397.60,219.02 398.00,219.67 398.40,220.08 398.80,220.44 399.20,219.43 399.60,220.29 400.00,220.71 400.40,221.28 400.80,221.13 401.20,219.99 401.60,221.13 402.00,220.58 402.40,221.20 402.80,220.54 403.20,221.91 403.60,221.32 404.00,221.04 404.40,221.47 404.80,221.40 405.20,222.35 405.60,221.34 406.00,221.41 406.40,221.34 406.80,221.40 407.20,222.11 407.60,222.08 408.00,222.93 408.40,222.70 408.80,223.16 409.20,223.04 409.60,223.36 410.00,222.05 410.40,222.93 410.80,223.51 411.20,222.66 411.60,222.68 412.00,223.22 412.40,223.84 412.80,223.79 413.20,224.39 413.60,223.41 414.00,224.47 414.40,223.59 414.80,223.38 415.20,224.16 415.60,223.90 416.00,224.74 416.40,224.32 416.80,224.03 417.20,224.98 417.60,225.20 418.00,224.75 418.40,225.39 418.80,224.45 419.20,225.11 419.60,224.98 420.00,224.40 420.40,224.53 420.80,225.52 421.20,224.84 421.60,225.78 422.00,224.92 422.40,225.64 422.80,225.14 423.20,226.51 423.60,225.55 424.00,225.90 424.40,226.29 424.80,225.34 425.20,226.19 425.60,226.88 426.00,225.96 426.40,226.30 426.80,226.46 427.20,226.86 427.60,226.72 428.00,227.20 428.40,227.49 428.80,226.33 429.20,226.58 429.60,227.70 430.00,226.55 430.40,227.00 430.80,227.85 431.20,227.38 431.60,227.82 432.00,227.80 432.40,227.97 432.80,227.86 433.20,227.04 433.60,227.42 434.00,227.33 434.40,227.16 434.80,227.76 435.20,228.02 435.60,228.77 436.00,227.75 436.40,228.72 436.80,227.95 436.80,232.20 436.40,232.81 436.00,232.05 435.60,233.34 435.20,232.86 434.80,232.94 434.40,232.98 434.00,232.08 433.60,231.93 433.20,232.47 432.80,232.01 432.40,232.38 432.00,232.02 431.60,232.14 431.20,231.50 430.80,231.88 430.40,231.40 430.00,231.54 429.60,231.39 429.20,231.28 428.80,231.64 428.40,230.70 428.00,230.37 427.60,231.32 427.20,230.97 426.80,231.28 426.40,230.94 426.00,231.28 425.60,231.22 425.20,229.88 424.80,230.72 424.40,230.42 424.00,230.64 423.60,229.65 423.20,230.56 422.80,230.53 422.40,229.23 422.00,229.28 421.60,230.03 421.20,229.99 420.80,230.03 420.40,230.37 420.00,228.75 419.60,229.54 419.20,228.85 418.80,229.03 418.40,229.39 418.00,228.44 417.60,228.60 417.20,229.20 416.80,228.97 416.40,228.97 416.00,229.05 415.60,227.86 415.20,227.82 414.80,227.88 414.40,227.96 414.00,228.54 413.60,227.30 413.20,228.44 412.80,228.46 412.40,227.29 412.00,227.48 411.60,228.40 411.20,226.78 410.80,227.27 410.40,226.87 410.00,226.94 409.60,226.36 409.20,227.48 408.80,226.92 408.40,226.18 408.00,226.93 407.60,226.95 407.20,227.08 406.80,226.63 406.40,226.19 406.00,225.55 405.60,226.40 405.20,225.61 404.80,225.73 404.40,226.20 404.00,225.90 403.60,226.41 403.20,225.16 402.80,224.89 402.40,224.95 402.00,225.74 401.60,225.32 401.20,224.33 400.80,224.61 400.40,224.47 400.00,225.33 399.60,225.16 399.20,224.75 398.80,224.53 398.40,224.87 398.00,224.92 397.60,224.80 397.20,224.31 396.80,223.91 396.40,223.66 396.00,223.31 395.60,223.12 395.20,223.31 394.80,224.01 394.40,223.79 394.00,222.62 393.60,223.49 393.20,222.97 392.80,222.54 392.40,222.21 392.00,223.30 391.60,223.15 391.20,222.22 390.80,222.68 390.40,222.78 390.00,222.30 389.60,221.61 389.20,222.33 388.80,222.26 388.40,221.24 388.00,221.98 387.60,221.01 387.20,221.16 386.80,220.40 386.40,221.35 386.00,221.50 385.60,220.84 385.20,220.77 384.80,221.15 384.40,220.40 384.00,220.91 383.60,220.62 383.20,219.58 382.80,220.61 382.40,220.04 382.00,219.24 381.60,219.58 381.20,219.52 380.80,219.64 380.40,218.76 380.00,218.86 379.60,218.22 379.20,218.29 378.80,218.32 378.40,218.22 378.00,218.76 377.60,218.82 377.20,218.54 376.80,217.96 376.40,218.10 376.00,218.13 375.60,217.55 375.20,216.66 374.80,217.97 374.40,217.14 374.00,217.00 373.60,217.02 373.20,216.51 372.80,216.50 372.40,216.85 372.00,216.76 371.60,215.89 371.20,216.57 370.80,215.56 370.40,216.36 370.00,215.98 369.60,215.37 369.20,214.91 368.80,214.87 368.40,215.34 368.00,215.37 367.60,215.09 367.20,215.06 366.80,215.10 366.40,214.15 366.00,214.02 365.60,214.08 365.20,213.77 364.80,214.35 364.40,213.41 364.00,213.40 363.60,213.67 363.20,213.40 362.80,213.57 362.40,212.50 362.00,212.62 361.60,213.34 361.20,212.26 360.80,212.28 360.40,211.97 360.00,212.73 359.60,212.16 359.20,212.15 358.80,211.32 358.40,212.22 358.00,211.38 357.60,211.93 357.20,211.09 356.80,211.56 356.40,211.25 356.00,210.41 355.60,210.21 355.20,210.44 354.80,211.02 354.40,210.32 354.00,209.94 353.60,210.56 353.20,210.40 352.80,209.41 352.40,209.27 352.00,209.48 351.60,209.21 351.20,209.48 350.80,208.72 350.40,208.77 350.00,208.86 349.60,209.13 349.20,208.81 348.80,208.37 348.40,208.17 348.00,207.93 347.60,208.37 347.20,207.71 346.80,207.47 346.40,207.62 346.00,207.52 345.60,207.65 345.20,207.24 344.80,206.71 344.40,207.27 344.00,206.53 343.60,206.35 343.20,206.23 342.80,206.05 342.40,206.14 342.00,205.82 341.60,205.72 341.20,205.34 340.80,205.56 340.40,205.62 340.00,205.06 339.60,205.28 339.20,205.20 338.80,204.53 338.40,204.57 338.00,204.82 337.60,203.94 337.20,204.15 336.80,204.32 336.40,203.54 336.00,203.23 335.60,203.63 335.20,203.05 334.80,203.07 334.40,202.82 334.00,202.75 333.60,202.19 333.20,202.50 332.80,201.97 332.40,201.99 332.00,201.68 331.60,201.38 331.20,201.27 330.80,200.93 330.40,201.16 330.00,201.06 329.60,200.80 329.20,200.45 328.80,200.17 328.40,200.27 328.00,200.10 327.60,199.96 327.20,199.74 326.80,199.38 326.40,199.39 326.00,199.03 325.60,198.77 325.20,198.59 324.80,198.44 324.40,198.04 324.00,198.03 323.60,197.73 323.20,197.87 322.80,197.40 322.40,197.43 322.00,197.39 321.60,196.77 321.20,196.75 320.80,196.46 320.40,196.65 320.00,196.25 319.60,196.22 319.20,196.17 318.80,195.98 318.40,195.54 318.00,195.25 317.60,195.33 317.20,195.01 316.80,194.80 316.40,194.61 316.00,194.52 315.60,194.25 315.20,194.11 314.80,193.67 314.40,193.63 314.00,193.27 313.60,192.99 313.20,192.87 312.80,192.34 312.40,192.19 312.00,191.93 311.60,191.58 311.20,191.30 310.80,191.09 310.40,190.75 310.00,190.34 309.60,190.14 309.20,189.71" fill="#000"/>
<rect x="128.8" y="22.0" width="319.70" height="251.50" fill="none" stroke="#262626" stroke-width="1.3"/>
<line x1="120.00" y1="262.27" x2="128.80" y2="262.27" stroke="#262626" stroke-width="1.2" />
<text transform="translate(110.10,262.27) rotate(-90) scale(1.0,1.07)" font-size="13.0" text-anchor="middle" font-family='"Liberation Sans", sans-serif' fill="#222">0.02</text>
<line x1="120.00" y1="180.87" x2="128.80" y2="180.87" stroke="#262626" stroke-width="1.2" />
<text transform="translate(110.10,180.87) rotate(-90) scale(1.0,1.07)" font-size="13.0" text-anchor="middle" font-family='"Liberation Sans", sans-serif' fill="#222">0.03</text>
<line x1="120.00" y1="123.12" x2="128.80" y2="123.12" stroke="#262626" stroke-width="1.2" />
<text transform="translate(110.10,123.12) rotate(-90) scale(1.0,1.07)" font-size="13.0" text-anchor="middle" font-family='"Liberation Sans", sans-serif' fill="#222">0.04</text>
<line x1="120.00" y1="78.32" x2="128.80" y2="78.32" stroke="#262626" stroke-width="1.2" />
<text transform="translate(110.10,78.32) rotate(-90) scale(1.0,1.07)" font-size="13.0" text-anchor="middle" font-family='"Liberation Sans", sans-serif' fill="#222">0.05</text>
<line x1="120.00" y1="41.72" x2="128.80" y2="41.72" stroke="#262626" stroke-width="1.2" />
<text transform="translate(110.10,41.72) rotate(-90) scale(1.0,1.07)" font-size="13.0" text-anchor="middle" font-family='"Liberation Sans", sans-serif' fill="#222">0.06</text>
<line x1="140.30" y1="273.50" x2="140.30" y2="281.00" stroke="#262626" stroke-width="1.2" />
<text transform="translate(140.30,301.60) scale(1.0,1.04)" font-size="13.05" text-anchor="middle" font-family='"Liberation Sans", sans-serif' fill="#222">0</text>
<line x1="214.25" y1="273.50" x2="214.25" y2="281.00" stroke="#262626" stroke-width="1.2" />
<text transform="translate(214.25,301.60) scale(1.0,1.04)" font-size="13.05" text-anchor="middle" font-family='"Liberation Sans", sans-serif' fill="#222">1000</text>
<line x1="288.20" y1="273.50" x2="288.20" y2="281.00" stroke="#262626" stroke-width="1.2" />
<text transform="translate(288.20,301.60) scale(1.0,1.04)" font-size="13.05" text-anchor="middle" font-family='"Liberation Sans", sans-serif' fill="#222">2000</text>
<line x1="362.15" y1="273.50" x2="362.15" y2="281.00" stroke="#262626" stroke-width="1.2" />
<text transform="translate(362.15,301.60) scale(1.0,1.04)" font-size="13.05" text-anchor="middle" font-family='"Liberation Sans", sans-serif' fill="#222">3000</text>
<line x1="436.10" y1="273.50" x2="436.10" y2="281.00" stroke="#262626" stroke-width="1.2" />
<text transform="translate(436.10,301.60) scale(1.0,1.04)" font-size="13.05" text-anchor="middle" font-family='"Liberation Sans", sans-serif' fill="#222">4000</text>
<text transform="translate(288.40,319.20) scale(1.0,1.06)" font-size="13.1" text-anchor="middle" font-family='"Liberation Sans", sans-serif' fill="#222">Epoch</text>
<text transform="translate(65.00,124.70) rotate(-90) scale(1.0,1.05)" font-size="13.28" text-anchor="middle" font-family='"Liberation Sans", sans-serif' fill="#222">Training and Evaluation</text>
<text transform="translate(80.80,123.95) rotate(-90) scale(1.0,1.06)" font-size="13.03" text-anchor="middle" font-family='"Liberation Sans", sans-serif' fill="#222">Mean Absolute Error</text>
<text x="52.60" y="17.20" font-size="24" text-anchor="start" font-family='"Liberation Serif", serif' fill="#111" >a)</text>
<line x1="547.70" y1="253.20" x2="642.00" y2="253.20" stroke="#c8c8c8" stroke-width="1" stroke-dasharray="1 2.3"/>
<line x1="547.70" y1="208.52" x2="642.00" y2="208.52" stroke="#c8c8c8" stroke-width="1" stroke-dasharray="1 2.3"/>
<line x1="547.70" y1="163.84" x2="642.00" y2="163.84" stroke="#c8c8c8" stroke-width="1" stroke-dasharray="1 2.3"/>
<line x1="547.70" y1="119.16" x2="642.00" y2="119.16" stroke="#c8c8c8" stroke-width="1" stroke-dasharray="1 2.3"/>
<line x1="547.70" y1="74.48" x2="642.00" y2="74.48" stroke="#c8c8c8" stroke-width="1" stroke-dasharray="1 2.3"/>
<line x1="547.70" y1="29.80" x2="642.00" y2="29.80" stroke="#c8c8c8" stroke-width="1" stroke-dasharray="1 2.3"/>
<line x1="557.70" y1="223.90" x2="557.70" y2="236.60" stroke="#262626" stroke-width="1.2" stroke-dasharray="3.9 2.7"/>
<line x1="557.70" y1="252.60" x2="557.70" y2="245.40" stroke="#262626" stroke-width="1.2" stroke-dasharray="3.9 2.7"/>
<line x1="554.97" y1="223.90" x2="560.43" y2="223.90" stroke="#262626" stroke-width="1.15" />
<line x1="554.97" y1="252.60" x2="560.43" y2="252.60" stroke="#262626" stroke-width="1.15" />
<rect x="553.00" y="236.60" width="9.40" height="8.80" fill="#fff" stroke="#1e1e1e" stroke-width="1.05"/>
<line x1="553.00" y1="241.40" x2="562.40" y2="241.40" stroke="#000" stroke-width="2.3" />
<line x1="570.12" y1="189.00" x2="570.12" y2="217.70" stroke="#262626" stroke-width="1.2" stroke-dasharray="3.9 2.7"/>
<line x1="570.12" y1="252.60" x2="570.12" y2="236.30" stroke="#262626" stroke-width="1.2" stroke-dasharray="3.9 2.7"/>
<line x1="567.39" y1="189.00" x2="572.85" y2="189.00" stroke="#262626" stroke-width="1.15" />
<line x1="567.39" y1="252.60" x2="572.85" y2="252.60" stroke="#262626" stroke-width="1.15" />
<rect x="565.42" y="217.70" width="9.40" height="18.60" fill="#fff" stroke="#1e1e1e" stroke-width="1.05"/>
<line x1="565.42" y1="228.00" x2="574.82" y2="228.00" stroke="#000" stroke-width="2.3" />
<line x1="582.54" y1="143.40" x2="582.54" y2="193.60" stroke="#262626" stroke-width="1.2" stroke-dasharray="3.9 2.7"/>
<line x1="582.54" y1="252.60" x2="582.54" y2="228.00" stroke="#262626" stroke-width="1.2" stroke-dasharray="3.9 2.7"/>
<line x1="579.81" y1="143.40" x2="585.27" y2="143.40" stroke="#262626" stroke-width="1.15" />
<line x1="579.81" y1="252.60" x2="585.27" y2="252.60" stroke="#262626" stroke-width="1.15" />
<rect x="577.84" y="193.60" width="9.40" height="34.40" fill="#fff" stroke="#1e1e1e" stroke-width="1.05"/>
<line x1="577.84" y1="214.00" x2="587.24" y2="214.00" stroke="#000" stroke-width="2.3" />
<line x1="594.96" y1="71.60" x2="594.96" y2="154.40" stroke="#262626" stroke-width="1.2" stroke-dasharray="3.9 2.7"/>
<line x1="594.96" y1="252.60" x2="594.96" y2="210.40" stroke="#262626" stroke-width="1.2" stroke-dasharray="3.9 2.7"/>
<line x1="592.23" y1="71.60" x2="597.69" y2="71.60" stroke="#262626" stroke-width="1.15" />
<line x1="592.23" y1="252.60" x2="597.69" y2="252.60" stroke="#262626" stroke-width="1.15" />
<rect x="590.26" y="154.40" width="9.40" height="56.00" fill="#fff" stroke="#1e1e1e" stroke-width="1.05"/>
<line x1="590.26" y1="188.20" x2="599.66" y2="188.20" stroke="#000" stroke-width="2.3" />
<line x1="607.38" y1="189.00" x2="607.38" y2="217.40" stroke="#262626" stroke-width="1.2" stroke-dasharray="3.9 2.7"/>
<line x1="607.38" y1="252.60" x2="607.38" y2="236.40" stroke="#262626" stroke-width="1.2" stroke-dasharray="3.9 2.7"/>
<line x1="604.65" y1="189.00" x2="610.11" y2="189.00" stroke="#262626" stroke-width="1.15" />
<line x1="604.65" y1="252.60" x2="610.11" y2="252.60" stroke="#262626" stroke-width="1.15" />
<rect x="602.68" y="217.40" width="9.40" height="19.00" fill="#fff" stroke="#1e1e1e" stroke-width="1.05"/>
<line x1="602.68" y1="228.00" x2="612.08" y2="228.00" stroke="#000" stroke-width="2.3" />
<line x1="619.80" y1="139.40" x2="619.80" y2="191.40" stroke="#262626" stroke-width="1.2" stroke-dasharray="3.9 2.7"/>
<line x1="619.80" y1="252.60" x2="619.80" y2="225.60" stroke="#262626" stroke-width="1.2" stroke-dasharray="3.9 2.7"/>
<line x1="617.07" y1="139.40" x2="622.53" y2="139.40" stroke="#262626" stroke-width="1.15" />
<line x1="617.07" y1="252.60" x2="622.53" y2="252.60" stroke="#262626" stroke-width="1.15" />
<rect x="615.10" y="191.40" width="9.40" height="34.20" fill="#fff" stroke="#1e1e1e" stroke-width="1.05"/>
<line x1="615.10" y1="212.00" x2="624.50" y2="212.00" stroke="#000" stroke-width="2.3" />
<line x1="632.22" y1="63.40" x2="632.22" y2="149.00" stroke="#262626" stroke-width="1.2" stroke-dasharray="3.9 2.7"/>
<line x1="632.22" y1="252.60" x2="632.22" y2="205.40" stroke="#262626" stroke-width="1.2" stroke-dasharray="3.9 2.7"/>
<line x1="629.49" y1="63.40" x2="634.95" y2="63.40" stroke="#262626" stroke-width="1.15" />
<line x1="629.49" y1="252.60" x2="634.95" y2="252.60" stroke="#262626" stroke-width="1.15" />
<rect x="627.52" y="149.00" width="9.40" height="56.40" fill="#fff" stroke="#1e1e1e" stroke-width="1.05"/>
<line x1="627.52" y1="182.60" x2="636.92" y2="182.60" stroke="#000" stroke-width="2.3" />
<rect x="547.7" y="20.9" width="94.30" height="240.50" fill="none" stroke="#262626" stroke-width="1.3"/>
<line x1="540.00" y1="253.20" x2="547.70" y2="253.20" stroke="#262626" stroke-width="1.2" />
<text transform="translate(531.20,259.10) scale(1.0,1.16)" font-size="13.2" text-anchor="end" font-family='"Liberation Sans", sans-serif' fill="#222">0.00</text>
<line x1="540.00" y1="208.52" x2="547.70" y2="208.52" stroke="#262626" stroke-width="1.2" />
<text transform="translate(531.20,214.42) scale(1.0,1.16)" font-size="13.2" text-anchor="end" font-family='"Liberation Sans", sans-serif' fill="#222">0.05</text>
<line x1="540.00" y1="163.84" x2="547.70" y2="163.84" stroke="#262626" stroke-width="1.2" />
<text transform="translate(531.20,169.74) scale(1.0,1.16)" font-size="13.2" text-anchor="end" font-family='"Liberation Sans", sans-serif' fill="#222">0.10</text>
<line x1="540.00" y1="119.16" x2="547.70" y2="119.16" stroke="#262626" stroke-width="1.2" />
<text transform="translate(531.20,125.06) scale(1.0,1.16)" font-size="13.2" text-anchor="end" font-family='"Liberation Sans", sans-serif' fill="#222">0.15</text>
<line x1="540.00" y1="74.48" x2="547.70" y2="74.48" stroke="#262626" stroke-width="1.2" />
<text transform="translate(531.20,80.38) scale(1.0,1.16)" font-size="13.2" text-anchor="end" font-family='"Liberation Sans", sans-serif' fill="#222">0.20</text>
<line x1="540.00" y1="29.80" x2="547.70" y2="29.80" stroke="#262626" stroke-width="1.2" />
<text transform="translate(531.20,35.70) scale(1.0,1.16)" font-size="13.2" text-anchor="end" font-family='"Liberation Sans", sans-serif' fill="#222">0.25</text>
<line x1="557.70" y1="261.40" x2="557.70" y2="270.00" stroke="#262626" stroke-width="1.2" />
<text transform="translate(562.30,276.60) rotate(-90) scale(1.06,1.04)" font-size="13" text-anchor="end" font-family='"Liberation Sans", sans-serif' fill="#222">Root</text>
<line x1="570.12" y1="261.40" x2="570.12" y2="270.00" stroke="#262626" stroke-width="1.2" />
<text transform="translate(574.72,276.60) rotate(-90) scale(1.06,1.04)" font-size="13" text-anchor="end" font-family='"Liberation Sans", sans-serif' fill="#222">RArm</text>
<line x1="582.54" y1="261.40" x2="582.54" y2="270.00" stroke="#262626" stroke-width="1.2" />
<text transform="translate(587.14,276.60) rotate(-90) scale(1.06,1.04)" font-size="13" text-anchor="end" font-family='"Liberation Sans", sans-serif' fill="#222">RElbow</text>
<line x1="594.96" y1="261.40" x2="594.96" y2="270.00" stroke="#262626" stroke-width="1.2" />
<text transform="translate(599.56,276.60) rotate(-90) scale(1.06,1.04)" font-size="13" text-anchor="end" font-family='"Liberation Sans", sans-serif' fill="#222">RHand</text>
<line x1="607.38" y1="261.40" x2="607.38" y2="270.00" stroke="#262626" stroke-width="1.2" />
<text transform="translate(611.98,276.60) rotate(-90) scale(1.06,1.04)" font-size="13" text-anchor="end" font-family='"Liberation Sans", sans-serif' fill="#222">LArm</text>
<line x1="619.80" y1="261.40" x2="619.80" y2="270.00" stroke="#262626" stroke-width="1.2" />
<text transform="translate(624.40,276.60) rotate(-90) scale(1.06,1.04)" font-size="13" text-anchor="end" font-family='"Liberation Sans", sans-serif' fill="#222">LElbow</text>
<line x1="632.22" y1="261.40" x2="632.22" y2="270.00" stroke="#262626" stroke-width="1.2" />
<text transform="translate(636.82,276.60) rotate(-90) scale(1.06,1.04)" font-size="13" text-anchor="end" font-family='"Liberation Sans", sans-serif' fill="#222">LHand</text>
<text transform="translate(490.10,141.00) rotate(-90) scale(1.0,1.107)" font-size="13.25" text-anchor="middle" font-family='"Liberation Sans", sans-serif' fill="#222">Localization error (distance) [m]</text>
<text x="478.20" y="17.50" font-size="20.5" text-anchor="start" font-family='"Liberation Serif", serif' fill="#111" >b)</text>
<line x1="66.00" y1="624.00" x2="383.00" y2="624.00" stroke="#c8c8c8" stroke-width="1" stroke-dasharray="1 2.3"/>
<line x1="66.00" y1="573.22" x2="383.00" y2="573.22" stroke="#c8c8c8" stroke-width="1" stroke-dasharray="1 2.3"/>
<line x1="66.00" y1="522.44" x2="383.00" y2="522.44" stroke="#c8c8c8" stroke-width="1" stroke-dasharray="1 2.3"/>
<line x1="66.00" y1="471.66" x2="383.00" y2="471.66" stroke="#c8c8c8" stroke-width="1" stroke-dasharray="1 2.3"/>
<line x1="66.00" y1="420.88" x2="383.00" y2="420.88" stroke="#c8c8c8" stroke-width="1" stroke-dasharray="1 2.3"/>
<line x1="66.00" y1="370.10" x2="383.00" y2="370.10" stroke="#c8c8c8" stroke-width="1" stroke-dasharray="1 2.3"/>
<line x1="83.30" y1="603.60" x2="83.30" y2="614.60" stroke="#262626" stroke-width="1.2" stroke-dasharray="3.2 2.5"/>
<line x1="83.30" y1="623.80" x2="83.30" y2="621.80" stroke="#262626" stroke-width="1.2" stroke-dasharray="3.2 2.5"/>
<line x1="80.83" y1="603.60" x2="85.77" y2="603.60" stroke="#262626" stroke-width="1.15" />
<line x1="80.83" y1="623.80" x2="85.77" y2="623.80" stroke="#262626" stroke-width="1.15" />
<rect x="79.05" y="614.60" width="8.50" height="7.20" fill="#ffffff" stroke="#1e1e1e" stroke-width="1.05"/>
<line x1="79.05" y1="619.00" x2="87.55" y2="619.00" stroke="#000" stroke-width="2.0" />
<line x1="94.16" y1="597.80" x2="94.16" y2="611.70" stroke="#262626" stroke-width="1.2" stroke-dasharray="3.2 2.5"/>
<line x1="94.16" y1="623.80" x2="94.16" y2="621.10" stroke="#262626" stroke-width="1.2" stroke-dasharray="3.2 2.5"/>
<line x1="91.70" y1="597.80" x2="96.63" y2="597.80" stroke="#262626" stroke-width="1.15" />
<line x1="91.70" y1="623.80" x2="96.63" y2="623.80" stroke="#262626" stroke-width="1.15" />
<rect x="89.91" y="611.70" width="8.50" height="9.40" fill="#ebebeb" stroke="#1e1e1e" stroke-width="1.05"/>
<line x1="89.91" y1="617.50" x2="98.41" y2="617.50" stroke="#000" stroke-width="2.0" />
<line x1="105.02" y1="608.60" x2="105.02" y2="616.60" stroke="#262626" stroke-width="1.2" stroke-dasharray="3.2 2.5"/>
<line x1="105.02" y1="623.80" x2="105.02" y2="622.50" stroke="#262626" stroke-width="1.2" stroke-dasharray="3.2 2.5"/>
<line x1="102.56" y1="608.60" x2="107.49" y2="608.60" stroke="#262626" stroke-width="1.15" />
<line x1="102.56" y1="623.80" x2="107.49" y2="623.80" stroke="#262626" stroke-width="1.15" />
<rect x="100.77" y="616.60" width="8.50" height="5.90" fill="#d9d9d9" stroke="#1e1e1e" stroke-width="1.05"/>
<line x1="100.77" y1="620.60" x2="109.27" y2="620.60" stroke="#000" stroke-width="2.0" />
<line x1="126.75" y1="582.40" x2="126.75" y2="604.20" stroke="#262626" stroke-width="1.2" stroke-dasharray="3.2 2.5"/>
<line x1="126.75" y1="623.80" x2="126.75" y2="619.40" stroke="#262626" stroke-width="1.2" stroke-dasharray="3.2 2.5"/>
<line x1="124.28" y1="582.40" x2="129.21" y2="582.40" stroke="#262626" stroke-width="1.15" />
<line x1="124.28" y1="623.80" x2="129.21" y2="623.80" stroke="#262626" stroke-width="1.15" />
<rect x="122.50" y="604.20" width="8.50" height="15.20" fill="#ffffff" stroke="#1e1e1e" stroke-width="1.05"/>
<line x1="122.50" y1="613.00" x2="131.00" y2="613.00" stroke="#000" stroke-width="2.0" />
<line x1="137.61" y1="579.60" x2="137.61" y2="602.80" stroke="#262626" stroke-width="1.2" stroke-dasharray="3.2 2.5"/>
<line x1="137.61" y1="623.80" x2="137.61" y2="619.40" stroke="#262626" stroke-width="1.2" stroke-dasharray="3.2 2.5"/>
<line x1="135.15" y1="579.60" x2="140.08" y2="579.60" stroke="#262626" stroke-width="1.15" />
<line x1="135.15" y1="623.80" x2="140.08" y2="623.80" stroke="#262626" stroke-width="1.15" />
<rect x="133.36" y="602.80" width="8.50" height="16.60" fill="#ebebeb" stroke="#1e1e1e" stroke-width="1.05"/>
<line x1="133.36" y1="612.00" x2="141.86" y2="612.00" stroke="#000" stroke-width="2.0" />
<line x1="148.47" y1="570.20" x2="148.47" y2="598.40" stroke="#262626" stroke-width="1.2" stroke-dasharray="3.2 2.5"/>
<line x1="148.47" y1="623.80" x2="148.47" y2="617.40" stroke="#262626" stroke-width="1.2" stroke-dasharray="3.2 2.5"/>
<line x1="146.01" y1="570.20" x2="150.94" y2="570.20" stroke="#262626" stroke-width="1.15" />
<line x1="146.01" y1="623.80" x2="150.94" y2="623.80" stroke="#262626" stroke-width="1.15" />
<rect x="144.22" y="598.40" width="8.50" height="19.00" fill="#d9d9d9" stroke="#1e1e1e" stroke-width="1.05"/>
<line x1="144.22" y1="609.80" x2="152.72" y2="609.80" stroke="#000" stroke-width="2.0" />
<line x1="170.20" y1="557.20" x2="170.20" y2="592.60" stroke="#262626" stroke-width="1.2" stroke-dasharray="3.2 2.5"/>
<line x1="170.20" y1="623.80" x2="170.20" y2="616.00" stroke="#262626" stroke-width="1.2" stroke-dasharray="3.2 2.5"/>
<line x1="167.73" y1="557.20" x2="172.66" y2="557.20" stroke="#262626" stroke-width="1.15" />
<line x1="167.73" y1="623.80" x2="172.66" y2="623.80" stroke="#262626" stroke-width="1.15" />
<rect x="165.95" y="592.60" width="8.50" height="23.40" fill="#ffffff" stroke="#1e1e1e" stroke-width="1.05"/>
<line x1="165.95" y1="606.40" x2="174.45" y2="606.40" stroke="#000" stroke-width="2.0" />
<line x1="181.06" y1="536.60" x2="181.06" y2="583.20" stroke="#262626" stroke-width="1.2" stroke-dasharray="3.2 2.5"/>
<line x1="181.06" y1="623.80" x2="181.06" y2="614.60" stroke="#262626" stroke-width="1.2" stroke-dasharray="3.2 2.5"/>
<line x1="178.59" y1="536.60" x2="183.52" y2="536.60" stroke="#262626" stroke-width="1.15" />
<line x1="178.59" y1="623.80" x2="183.52" y2="623.80" stroke="#262626" stroke-width="1.15" />
<rect x="176.81" y="583.20" width="8.50" height="31.40" fill="#ebebeb" stroke="#1e1e1e" stroke-width="1.05"/>
<line x1="176.81" y1="602.00" x2="185.31" y2="602.00" stroke="#000" stroke-width="2.0" />
<line x1="191.92" y1="551.40" x2="191.92" y2="590.00" stroke="#262626" stroke-width="1.2" stroke-dasharray="3.2 2.5"/>
<line x1="191.92" y1="623.80" x2="191.92" y2="616.00" stroke="#262626" stroke-width="1.2" stroke-dasharray="3.2 2.5"/>
<line x1="189.46" y1="551.40" x2="194.39" y2="551.40" stroke="#262626" stroke-width="1.15" />
<line x1="189.46" y1="623.80" x2="194.39" y2="623.80" stroke="#262626" stroke-width="1.15" />
<rect x="187.67" y="590.00" width="8.50" height="26.00" fill="#d9d9d9" stroke="#1e1e1e" stroke-width="1.05"/>
<line x1="187.67" y1="605.60" x2="196.17" y2="605.60" stroke="#000" stroke-width="2.0" />
<line x1="213.64" y1="507.00" x2="213.64" y2="568.60" stroke="#262626" stroke-width="1.2" stroke-dasharray="3.2 2.5"/>
<line x1="213.64" y1="623.80" x2="213.64" y2="610.20" stroke="#262626" stroke-width="1.2" stroke-dasharray="3.2 2.5"/>
<line x1="211.18" y1="507.00" x2="216.11" y2="507.00" stroke="#262626" stroke-width="1.15" />
<line x1="211.18" y1="623.80" x2="216.11" y2="623.80" stroke="#262626" stroke-width="1.15" />
<rect x="209.39" y="568.60" width="8.50" height="41.60" fill="#ffffff" stroke="#1e1e1e" stroke-width="1.05"/>
<line x1="209.39" y1="593.20" x2="217.89" y2="593.20" stroke="#000" stroke-width="2.0" />
<line x1="224.51" y1="474.40" x2="224.51" y2="554.20" stroke="#262626" stroke-width="1.2" stroke-dasharray="3.2 2.5"/>
<line x1="224.51" y1="623.80" x2="224.51" y2="606.40" stroke="#262626" stroke-width="1.2" stroke-dasharray="3.2 2.5"/>
<line x1="222.04" y1="474.40" x2="226.97" y2="474.40" stroke="#262626" stroke-width="1.15" />
<line x1="222.04" y1="623.80" x2="226.97" y2="623.80" stroke="#262626" stroke-width="1.15" />
<rect x="220.26" y="554.20" width="8.50" height="52.20" fill="#ebebeb" stroke="#1e1e1e" stroke-width="1.05"/>
<line x1="220.26" y1="586.00" x2="228.76" y2="586.00" stroke="#000" stroke-width="2.0" />
<line x1="235.37" y1="511.40" x2="235.37" y2="570.60" stroke="#262626" stroke-width="1.2" stroke-dasharray="3.2 2.5"/>
<line x1="235.37" y1="623.80" x2="235.37" y2="610.80" stroke="#262626" stroke-width="1.2" stroke-dasharray="3.2 2.5"/>
<line x1="232.90" y1="511.40" x2="237.83" y2="511.40" stroke="#262626" stroke-width="1.15" />
<line x1="232.90" y1="623.80" x2="237.83" y2="623.80" stroke="#262626" stroke-width="1.15" />
<rect x="231.12" y="570.60" width="8.50" height="40.20" fill="#d9d9d9" stroke="#1e1e1e" stroke-width="1.05"/>
<line x1="231.12" y1="594.60" x2="239.62" y2="594.60" stroke="#000" stroke-width="2.0" />
<line x1="257.09" y1="582.40" x2="257.09" y2="604.20" stroke="#262626" stroke-width="1.2" stroke-dasharray="3.2 2.5"/>
<line x1="257.09" y1="623.80" x2="257.09" y2="619.40" stroke="#262626" stroke-width="1.2" stroke-dasharray="3.2 2.5"/>
<line x1="254.63" y1="582.40" x2="259.56" y2="582.40" stroke="#262626" stroke-width="1.15" />
<line x1="254.63" y1="623.80" x2="259.56" y2="623.80" stroke="#262626" stroke-width="1.15" />
<rect x="252.84" y="604.20" width="8.50" height="15.20" fill="#ffffff" stroke="#1e1e1e" stroke-width="1.05"/>
<line x1="252.84" y1="613.00" x2="261.34" y2="613.00" stroke="#000" stroke-width="2.0" />
<line x1="267.95" y1="577.40" x2="267.95" y2="602.40" stroke="#262626" stroke-width="1.2" stroke-dasharray="3.2 2.5"/>
<line x1="267.95" y1="623.80" x2="267.95" y2="618.20" stroke="#262626" stroke-width="1.2" stroke-dasharray="3.2 2.5"/>
<line x1="265.49" y1="577.40" x2="270.42" y2="577.40" stroke="#262626" stroke-width="1.15" />
<line x1="265.49" y1="623.80" x2="270.42" y2="623.80" stroke="#262626" stroke-width="1.15" />
<rect x="263.70" y="602.40" width="8.50" height="15.80" fill="#ebebeb" stroke="#1e1e1e" stroke-width="1.05"/>
<line x1="263.70" y1="612.20" x2="272.20" y2="612.20" stroke="#000" stroke-width="2.0" />
<line x1="278.82" y1="571.40" x2="278.82" y2="599.20" stroke="#262626" stroke-width="1.2" stroke-dasharray="3.2 2.5"/>
<line x1="278.82" y1="623.80" x2="278.82" y2="617.40" stroke="#262626" stroke-width="1.2" stroke-dasharray="3.2 2.5"/>
<line x1="276.35" y1="571.40" x2="281.28" y2="571.40" stroke="#262626" stroke-width="1.15" />
<line x1="276.35" y1="623.80" x2="281.28" y2="623.80" stroke="#262626" stroke-width="1.15" />
<rect x="274.57" y="599.20" width="8.50" height="18.20" fill="#d9d9d9" stroke="#1e1e1e" stroke-width="1.05"/>
<line x1="274.57" y1="609.80" x2="283.07" y2="609.80" stroke="#000" stroke-width="2.0" />
<line x1="300.54" y1="552.60" x2="300.54" y2="590.40" stroke="#262626" stroke-width="1.2" stroke-dasharray="3.2 2.5"/>
<line x1="300.54" y1="623.80" x2="300.54" y2="615.40" stroke="#262626" stroke-width="1.2" stroke-dasharray="3.2 2.5"/>
<line x1="298.08" y1="552.60" x2="303.00" y2="552.60" stroke="#262626" stroke-width="1.15" />
<line x1="298.08" y1="623.80" x2="303.00" y2="623.80" stroke="#262626" stroke-width="1.15" />
<rect x="296.29" y="590.40" width="8.50" height="25.00" fill="#ffffff" stroke="#1e1e1e" stroke-width="1.05"/>
<line x1="296.29" y1="605.60" x2="304.79" y2="605.60" stroke="#000" stroke-width="2.0" />
<line x1="311.40" y1="531.40" x2="311.40" y2="580.40" stroke="#262626" stroke-width="1.2" stroke-dasharray="3.2 2.5"/>
<line x1="311.40" y1="623.80" x2="311.40" y2="613.20" stroke="#262626" stroke-width="1.2" stroke-dasharray="3.2 2.5"/>
<line x1="308.94" y1="531.40" x2="313.87" y2="531.40" stroke="#262626" stroke-width="1.15" />
<line x1="308.94" y1="623.80" x2="313.87" y2="623.80" stroke="#262626" stroke-width="1.15" />
<rect x="307.15" y="580.40" width="8.50" height="32.80" fill="#ebebeb" stroke="#1e1e1e" stroke-width="1.05"/>
<line x1="307.15" y1="600.40" x2="315.65" y2="600.40" stroke="#000" stroke-width="2.0" />
<line x1="322.26" y1="551.40" x2="322.26" y2="589.40" stroke="#262626" stroke-width="1.2" stroke-dasharray="3.2 2.5"/>
<line x1="322.26" y1="623.80" x2="322.26" y2="615.40" stroke="#262626" stroke-width="1.2" stroke-dasharray="3.2 2.5"/>
<line x1="319.80" y1="551.40" x2="324.73" y2="551.40" stroke="#262626" stroke-width="1.15" />
<line x1="319.80" y1="623.80" x2="324.73" y2="623.80" stroke="#262626" stroke-width="1.15" />
<rect x="318.01" y="589.40" width="8.50" height="26.00" fill="#d9d9d9" stroke="#1e1e1e" stroke-width="1.05"/>
<line x1="318.01" y1="605.60" x2="326.51" y2="605.60" stroke="#000" stroke-width="2.0" />
<line x1="343.99" y1="504.00" x2="343.99" y2="567.40" stroke="#262626" stroke-width="1.2" stroke-dasharray="3.2 2.5"/>
<line x1="343.99" y1="623.80" x2="343.99" y2="609.60" stroke="#262626" stroke-width="1.2" stroke-dasharray="3.2 2.5"/>
<line x1="341.52" y1="504.00" x2="346.45" y2="504.00" stroke="#262626" stroke-width="1.15" />
<line x1="341.52" y1="623.80" x2="346.45" y2="623.80" stroke="#262626" stroke-width="1.15" />
<rect x="339.74" y="567.40" width="8.50" height="42.20" fill="#ffffff" stroke="#1e1e1e" stroke-width="1.05"/>
<line x1="339.74" y1="592.80" x2="348.24" y2="592.80" stroke="#000" stroke-width="2.0" />
<line x1="354.85" y1="461.00" x2="354.85" y2="547.00" stroke="#262626" stroke-width="1.2" stroke-dasharray="3.2 2.5"/>
<line x1="354.85" y1="623.80" x2="354.85" y2="604.20" stroke="#262626" stroke-width="1.2" stroke-dasharray="3.2 2.5"/>
<line x1="352.39" y1="461.00" x2="357.31" y2="461.00" stroke="#262626" stroke-width="1.15" />
<line x1="352.39" y1="623.80" x2="357.31" y2="623.80" stroke="#262626" stroke-width="1.15" />
<rect x="350.60" y="547.00" width="8.50" height="57.20" fill="#ebebeb" stroke="#1e1e1e" stroke-width="1.05"/>
<line x1="350.60" y1="581.00" x2="359.10" y2="581.00" stroke="#000" stroke-width="2.0" />
<line x1="365.71" y1="504.40" x2="365.71" y2="568.60" stroke="#262626" stroke-width="1.2" stroke-dasharray="3.2 2.5"/>
<line x1="365.71" y1="623.80" x2="365.71" y2="609.60" stroke="#262626" stroke-width="1.2" stroke-dasharray="3.2 2.5"/>
<line x1="363.25" y1="504.40" x2="368.18" y2="504.40" stroke="#262626" stroke-width="1.15" />
<line x1="363.25" y1="623.80" x2="368.18" y2="623.80" stroke="#262626" stroke-width="1.15" />
<rect x="361.46" y="568.60" width="8.50" height="41.00" fill="#d9d9d9" stroke="#1e1e1e" stroke-width="1.05"/>
<line x1="361.46" y1="593.20" x2="369.96" y2="593.20" stroke="#000" stroke-width="2.0" />
<rect x="66.0" y="359.9" width="317.00" height="274.50" fill="none" stroke="#262626" stroke-width="1.3"/>
<line x1="59.00" y1="624.00" x2="66.00" y2="624.00" stroke="#262626" stroke-width="1.2" />
<text x="51.60" y="629.90" font-size="12" text-anchor="end" font-family='"Liberation Sans", sans-serif' fill="#222" >0.00</text>
<line x1="59.00" y1="573.22" x2="66.00" y2="573.22" stroke="#262626" stroke-width="1.2" />
<text x="51.60" y="579.12" font-size="12" text-anchor="end" font-family='"Liberation Sans", sans-serif' fill="#222" >0.05</text>
<line x1="59.00" y1="522.44" x2="66.00" y2="522.44" stroke="#262626" stroke-width="1.2" />
<text x="51.60" y="528.34" font-size="12" text-anchor="end" font-family='"Liberation Sans", sans-serif' fill="#222" >0.10</text>
<line x1="59.00" y1="471.66" x2="66.00" y2="471.66" stroke="#262626" stroke-width="1.2" />
<text x="51.60" y="477.56" font-size="12" text-anchor="end" font-family='"Liberation Sans", sans-serif' fill="#222" >0.15</text>
<line x1="59.00" y1="420.88" x2="66.00" y2="420.88" stroke="#262626" stroke-width="1.2" />
<text x="51.60" y="426.78" font-size="12" text-anchor="end" font-family='"Liberation Sans", sans-serif' fill="#222" >0.20</text>
<line x1="59.00" y1="370.10" x2="66.00" y2="370.10" stroke="#262626" stroke-width="1.2" />
<text x="51.60" y="376.00" font-size="12" text-anchor="end" font-family='"Liberation Sans", sans-serif' fill="#222" >0.25</text>
<line x1="83.30" y1="634.40" x2="83.30" y2="642.00" stroke="#262626" stroke-width="1.2" />
<text transform="translate(88.70,648.00) rotate(-90) scale(1.0,1.11)" font-size="11.77" text-anchor="end" font-family='"Liberation Sans", sans-serif' fill="#222">RootX</text>
<line x1="94.16" y1="634.40" x2="94.16" y2="642.00" stroke="#262626" stroke-width="1.2" />
<text transform="translate(99.56,648.00) rotate(-90) scale(1.0,1.11)" font-size="11.77" text-anchor="end" font-family='"Liberation Sans", sans-serif' fill="#222">RootY</text>
<line x1="105.02" y1="634.40" x2="105.02" y2="642.00" stroke="#262626" stroke-width="1.2" />
<text transform="translate(110.42,648.00) rotate(-90) scale(1.0,1.11)" font-size="11.77" text-anchor="end" font-family='"Liberation Sans", sans-serif' fill="#222">RootZ</text>
<line x1="126.75" y1="634.40" x2="126.75" y2="642.00" stroke="#262626" stroke-width="1.2" />
<text transform="translate(132.15,648.00) rotate(-90) scale(1.0,1.11)" font-size="11.77" text-anchor="end" font-family='"Liberation Sans", sans-serif' fill="#222">RArmX</text>
<line x1="137.61" y1="634.40" x2="137.61" y2="642.00" stroke="#262626" stroke-width="1.2" />
<text transform="translate(143.01,648.00) rotate(-90) scale(1.0,1.11)" font-size="11.77" text-anchor="end" font-family='"Liberation Sans", sans-serif' fill="#222">RArmY</text>
<line x1="148.47" y1="634.40" x2="148.47" y2="642.00" stroke="#262626" stroke-width="1.2" />
<text transform="translate(153.87,648.00) rotate(-90) scale(1.0,1.11)" font-size="11.77" text-anchor="end" font-family='"Liberation Sans", sans-serif' fill="#222">RArmZ</text>
<line x1="170.20" y1="634.40" x2="170.20" y2="642.00" stroke="#262626" stroke-width="1.2" />
<text transform="translate(175.60,648.00) rotate(-90) scale(1.0,1.11)" font-size="11.77" text-anchor="end" font-family='"Liberation Sans", sans-serif' fill="#222">RElbowX</text>
<line x1="181.06" y1="634.40" x2="181.06" y2="642.00" stroke="#262626" stroke-width="1.2" />
<text transform="translate(186.46,648.00) rotate(-90) scale(1.0,1.11)" font-size="11.77" text-anchor="end" font-family='"Liberation Sans", sans-serif' fill="#222">RElbowY</text>
<line x1="191.92" y1="634.40" x2="191.92" y2="642.00" stroke="#262626" stroke-width="1.2" />
<text transform="translate(197.32,648.00) rotate(-90) scale(1.0,1.11)" font-size="11.77" text-anchor="end" font-family='"Liberation Sans", sans-serif' fill="#222">RElbowZ</text>
<line x1="213.64" y1="634.40" x2="213.64" y2="642.00" stroke="#262626" stroke-width="1.2" />
<text transform="translate(219.04,648.00) rotate(-90) scale(1.0,1.11)" font-size="11.77" text-anchor="end" font-family='"Liberation Sans", sans-serif' fill="#222">RHandX</text>
<line x1="224.51" y1="634.40" x2="224.51" y2="642.00" stroke="#262626" stroke-width="1.2" />
<text transform="translate(229.91,648.00) rotate(-90) scale(1.0,1.11)" font-size="11.77" text-anchor="end" font-family='"Liberation Sans", sans-serif' fill="#222">RHandY</text>
<line x1="235.37" y1="634.40" x2="235.37" y2="642.00" stroke="#262626" stroke-width="1.2" />
<text transform="translate(240.77,648.00) rotate(-90) scale(1.0,1.11)" font-size="11.77" text-anchor="end" font-family='"Liberation Sans", sans-serif' fill="#222">RHandZ</text>
<line x1="257.09" y1="634.40" x2="257.09" y2="642.00" stroke="#262626" stroke-width="1.2" />
<text transform="translate(262.49,648.00) rotate(-90) scale(1.0,1.11)" font-size="11.77" text-anchor="end" font-family='"Liberation Sans", sans-serif' fill="#222">LArmX</text>
<line x1="267.95" y1="634.40" x2="267.95" y2="642.00" stroke="#262626" stroke-width="1.2" />
<text transform="translate(273.35,648.00) rotate(-90) scale(1.0,1.11)" font-size="11.77" text-anchor="end" font-family='"Liberation Sans", sans-serif' fill="#222">LArmY</text>
<line x1="278.82" y1="634.40" x2="278.82" y2="642.00" stroke="#262626" stroke-width="1.2" />
<text transform="translate(284.22,648.00) rotate(-90) scale(1.0,1.11)" font-size="11.77" text-anchor="end" font-family='"Liberation Sans", sans-serif' fill="#222">LArmZ</text>
<line x1="300.54" y1="634.40" x2="300.54" y2="642.00" stroke="#262626" stroke-width="1.2" />
<text transform="translate(305.94,648.00) rotate(-90) scale(1.0,1.11)" font-size="11.77" text-anchor="end" font-family='"Liberation Sans", sans-serif' fill="#222">LElbowX</text>
<line x1="311.40" y1="634.40" x2="311.40" y2="642.00" stroke="#262626" stroke-width="1.2" />
<text transform="translate(316.80,648.00) rotate(-90) scale(1.0,1.11)" font-size="11.77" text-anchor="end" font-family='"Liberation Sans", sans-serif' fill="#222">LElbowY</text>
<line x1="322.26" y1="634.40" x2="322.26" y2="642.00" stroke="#262626" stroke-width="1.2" />
<text transform="translate(327.66,648.00) rotate(-90) scale(1.0,1.11)" font-size="11.77" text-anchor="end" font-family='"Liberation Sans", sans-serif' fill="#222">LElbowZ</text>
<line x1="343.99" y1="634.40" x2="343.99" y2="642.00" stroke="#262626" stroke-width="1.2" />
<text transform="translate(349.39,648.00) rotate(-90) scale(1.0,1.11)" font-size="11.77" text-anchor="end" font-family='"Liberation Sans", sans-serif' fill="#222">LHandX</text>
<line x1="354.85" y1="634.40" x2="354.85" y2="642.00" stroke="#262626" stroke-width="1.2" />
<text transform="translate(360.25,648.00) rotate(-90) scale(1.0,1.11)" font-size="11.77" text-anchor="end" font-family='"Liberation Sans", sans-serif' fill="#222">LHandY</text>
<line x1="365.71" y1="634.40" x2="365.71" y2="642.00" stroke="#262626" stroke-width="1.2" />
<text transform="translate(371.11,648.00) rotate(-90) scale(1.0,1.11)" font-size="11.77" text-anchor="end" font-family='"Liberation Sans", sans-serif' fill="#222">LHandZ</text>
<text transform="translate(9.90,497.00) rotate(-90) scale(1.0,1.085)" font-size="11.52" text-anchor="middle" font-family='"Liberation Sans", sans-serif' fill="#222">Localization Error [m]</text>
<text x="0.50" y="356.00" font-size="20.5" text-anchor="start" font-family='"Liberation Serif", serif' fill="#111" >c)</text>
<line x1="458.70" y1="619.60" x2="683.30" y2="619.60" stroke="#c8c8c8" stroke-width="1" stroke-dasharray="1 2.3"/>
<line x1="458.70" y1="556.96" x2="683.30" y2="556.96" stroke="#c8c8c8" stroke-width="1" stroke-dasharray="1 2.3"/>
<line x1="458.70" y1="494.32" x2="683.30" y2="494.32" stroke="#c8c8c8" stroke-width="1" stroke-dasharray="1 2.3"/>
<line x1="458.70" y1="431.68" x2="683.30" y2="431.68" stroke="#c8c8c8" stroke-width="1" stroke-dasharray="1 2.3"/>
<line x1="458.70" y1="369.04" x2="683.30" y2="369.04" stroke="#c8c8c8" stroke-width="1" stroke-dasharray="1 2.3"/>
<line x1="473.30" y1="583.20" x2="473.30" y2="602.70" stroke="#262626" stroke-width="1.2" stroke-dasharray="3.2 2.55"/>
<line x1="473.30" y1="619.60" x2="473.30" y2="615.20" stroke="#262626" stroke-width="1.2" stroke-dasharray="3.2 2.55"/>
<line x1="470.49" y1="583.20" x2="476.11" y2="583.20" stroke="#262626" stroke-width="1.15" />
<line x1="470.49" y1="619.60" x2="476.11" y2="619.60" stroke="#262626" stroke-width="1.15" />
<rect x="468.45" y="602.70" width="9.70" height="12.50" fill="#ffffff" stroke="#1e1e1e" stroke-width="1.05"/>
<line x1="468.45" y1="610.40" x2="478.15" y2="610.40" stroke="#000" stroke-width="2.2" />
<line x1="485.50" y1="578.90" x2="485.50" y2="600.60" stroke="#262626" stroke-width="1.2" stroke-dasharray="3.2 2.55"/>
<line x1="485.50" y1="619.60" x2="485.50" y2="614.20" stroke="#262626" stroke-width="1.2" stroke-dasharray="3.2 2.55"/>
<line x1="482.69" y1="578.90" x2="488.31" y2="578.90" stroke="#262626" stroke-width="1.15" />
<line x1="482.69" y1="619.60" x2="488.31" y2="619.60" stroke="#262626" stroke-width="1.15" />
<rect x="480.65" y="600.60" width="9.70" height="13.60" fill="#d9d9d9" stroke="#1e1e1e" stroke-width="1.05"/>
<line x1="480.65" y1="609.10" x2="490.35" y2="609.10" stroke="#000" stroke-width="2.2" />
<line x1="509.90" y1="559.00" x2="509.90" y2="591.00" stroke="#262626" stroke-width="1.2" stroke-dasharray="3.2 2.55"/>
<line x1="509.90" y1="619.60" x2="509.90" y2="612.60" stroke="#262626" stroke-width="1.2" stroke-dasharray="3.2 2.55"/>
<line x1="507.09" y1="559.00" x2="512.71" y2="559.00" stroke="#262626" stroke-width="1.15" />
<line x1="507.09" y1="619.60" x2="512.71" y2="619.60" stroke="#262626" stroke-width="1.15" />
<rect x="505.05" y="591.00" width="9.70" height="21.60" fill="#ffffff" stroke="#1e1e1e" stroke-width="1.05"/>
<line x1="505.05" y1="604.00" x2="514.75" y2="604.00" stroke="#000" stroke-width="2.2" />
<line x1="522.10" y1="543.00" x2="522.10" y2="584.00" stroke="#262626" stroke-width="1.2" stroke-dasharray="3.2 2.55"/>
<line x1="522.10" y1="619.60" x2="522.10" y2="611.60" stroke="#262626" stroke-width="1.2" stroke-dasharray="3.2 2.55"/>
<line x1="519.29" y1="543.00" x2="524.91" y2="543.00" stroke="#262626" stroke-width="1.15" />
<line x1="519.29" y1="619.60" x2="524.91" y2="619.60" stroke="#262626" stroke-width="1.15" />
<rect x="517.25" y="584.00" width="9.70" height="27.60" fill="#d9d9d9" stroke="#1e1e1e" stroke-width="1.05"/>
<line x1="517.25" y1="600.40" x2="526.95" y2="600.40" stroke="#000" stroke-width="2.2" />
<line x1="546.50" y1="508.60" x2="546.50" y2="567.40" stroke="#262626" stroke-width="1.2" stroke-dasharray="3.2 2.55"/>
<line x1="546.50" y1="619.60" x2="546.50" y2="607.00" stroke="#262626" stroke-width="1.2" stroke-dasharray="3.2 2.55"/>
<line x1="543.69" y1="508.60" x2="549.31" y2="508.60" stroke="#262626" stroke-width="1.15" />
<line x1="543.69" y1="619.60" x2="549.31" y2="619.60" stroke="#262626" stroke-width="1.15" />
<rect x="541.65" y="567.40" width="9.70" height="39.60" fill="#ffffff" stroke="#1e1e1e" stroke-width="1.05"/>
<line x1="541.65" y1="591.00" x2="551.35" y2="591.00" stroke="#000" stroke-width="2.2" />
<line x1="558.70" y1="480.40" x2="558.70" y2="554.40" stroke="#262626" stroke-width="1.2" stroke-dasharray="3.2 2.55"/>
<line x1="558.70" y1="619.60" x2="558.70" y2="604.40" stroke="#262626" stroke-width="1.2" stroke-dasharray="3.2 2.55"/>
<line x1="555.89" y1="480.40" x2="561.51" y2="480.40" stroke="#262626" stroke-width="1.15" />
<line x1="555.89" y1="619.60" x2="561.51" y2="619.60" stroke="#262626" stroke-width="1.15" />
<rect x="553.85" y="554.40" width="9.70" height="50.00" fill="#d9d9d9" stroke="#1e1e1e" stroke-width="1.05"/>
<line x1="553.85" y1="584.60" x2="563.55" y2="584.60" stroke="#000" stroke-width="2.2" />
<line x1="583.10" y1="583.60" x2="583.10" y2="602.40" stroke="#262626" stroke-width="1.2" stroke-dasharray="3.2 2.55"/>
<line x1="583.10" y1="619.60" x2="583.10" y2="615.60" stroke="#262626" stroke-width="1.2" stroke-dasharray="3.2 2.55"/>
<line x1="580.29" y1="583.60" x2="585.91" y2="583.60" stroke="#262626" stroke-width="1.15" />
<line x1="580.29" y1="619.60" x2="585.91" y2="619.60" stroke="#262626" stroke-width="1.15" />
<rect x="578.25" y="602.40" width="9.70" height="13.20" fill="#ffffff" stroke="#1e1e1e" stroke-width="1.05"/>
<line x1="578.25" y1="610.60" x2="587.95" y2="610.60" stroke="#000" stroke-width="2.2" />
<line x1="595.30" y1="577.00" x2="595.30" y2="599.60" stroke="#262626" stroke-width="1.2" stroke-dasharray="3.2 2.55"/>
<line x1="595.30" y1="619.60" x2="595.30" y2="614.60" stroke="#262626" stroke-width="1.2" stroke-dasharray="3.2 2.55"/>
<line x1="592.49" y1="577.00" x2="598.11" y2="577.00" stroke="#262626" stroke-width="1.15" />
<line x1="592.49" y1="619.60" x2="598.11" y2="619.60" stroke="#262626" stroke-width="1.15" />
<rect x="590.45" y="599.60" width="9.70" height="15.00" fill="#d9d9d9" stroke="#1e1e1e" stroke-width="1.05"/>
<line x1="590.45" y1="608.60" x2="600.15" y2="608.60" stroke="#000" stroke-width="2.2" />
<line x1="619.70" y1="555.40" x2="619.70" y2="589.60" stroke="#262626" stroke-width="1.2" stroke-dasharray="3.2 2.55"/>
<line x1="619.70" y1="619.60" x2="619.70" y2="612.40" stroke="#262626" stroke-width="1.2" stroke-dasharray="3.2 2.55"/>
<line x1="616.89" y1="555.40" x2="622.51" y2="555.40" stroke="#262626" stroke-width="1.15" />
<line x1="616.89" y1="619.60" x2="622.51" y2="619.60" stroke="#262626" stroke-width="1.15" />
<rect x="614.85" y="589.60" width="9.70" height="22.80" fill="#ffffff" stroke="#1e1e1e" stroke-width="1.05"/>
<line x1="614.85" y1="603.00" x2="624.55" y2="603.00" stroke="#000" stroke-width="2.2" />
<line x1="631.90" y1="537.40" x2="631.90" y2="581.00" stroke="#262626" stroke-width="1.2" stroke-dasharray="3.2 2.55"/>
<line x1="631.90" y1="619.60" x2="631.90" y2="610.60" stroke="#262626" stroke-width="1.2" stroke-dasharray="3.2 2.55"/>
<line x1="629.09" y1="537.40" x2="634.71" y2="537.40" stroke="#262626" stroke-width="1.15" />
<line x1="629.09" y1="619.60" x2="634.71" y2="619.60" stroke="#262626" stroke-width="1.15" />
<rect x="627.05" y="581.00" width="9.70" height="29.60" fill="#d9d9d9" stroke="#1e1e1e" stroke-width="1.05"/>
<line x1="627.05" y1="598.60" x2="636.75" y2="598.60" stroke="#000" stroke-width="2.2" />
<line x1="656.30" y1="505.00" x2="656.30" y2="566.40" stroke="#262626" stroke-width="1.2" stroke-dasharray="3.2 2.55"/>
<line x1="656.30" y1="619.60" x2="656.30" y2="606.60" stroke="#262626" stroke-width="1.2" stroke-dasharray="3.2 2.55"/>
<line x1="653.49" y1="505.00" x2="659.11" y2="505.00" stroke="#262626" stroke-width="1.15" />
<line x1="653.49" y1="619.60" x2="659.11" y2="619.60" stroke="#262626" stroke-width="1.15" />
<rect x="651.45" y="566.40" width="9.70" height="40.20" fill="#ffffff" stroke="#1e1e1e" stroke-width="1.05"/>
<line x1="651.45" y1="589.60" x2="661.15" y2="589.60" stroke="#000" stroke-width="2.2" />
<line x1="668.50" y1="467.00" x2="668.50" y2="548.00" stroke="#262626" stroke-width="1.2" stroke-dasharray="3.2 2.55"/>
<line x1="668.50" y1="619.60" x2="668.50" y2="601.40" stroke="#262626" stroke-width="1.2" stroke-dasharray="3.2 2.55"/>
<line x1="665.69" y1="467.00" x2="671.31" y2="467.00" stroke="#262626" stroke-width="1.15" />
<line x1="665.69" y1="619.60" x2="671.31" y2="619.60" stroke="#262626" stroke-width="1.15" />
<rect x="663.65" y="548.00" width="9.70" height="53.40" fill="#d9d9d9" stroke="#1e1e1e" stroke-width="1.05"/>
<line x1="663.65" y1="580.00" x2="673.35" y2="580.00" stroke="#000" stroke-width="2.2" />
<rect x="458.7" y="359.2" width="224.60" height="270.80" fill="none" stroke="#262626" stroke-width="1.3"/>
<line x1="452.00" y1="619.60" x2="458.70" y2="619.60" stroke="#262626" stroke-width="1.2" />
<text x="444.20" y="625.80" font-size="12" text-anchor="end" font-family='"Liberation Sans", sans-serif' fill="#222" >0</text>
<line x1="452.00" y1="556.96" x2="458.70" y2="556.96" stroke="#262626" stroke-width="1.2" />
<text x="444.20" y="563.16" font-size="12" text-anchor="end" font-family='"Liberation Sans", sans-serif' fill="#222" >2</text>
<line x1="452.00" y1="494.32" x2="458.70" y2="494.32" stroke="#262626" stroke-width="1.2" />
<text x="444.20" y="500.52" font-size="12" text-anchor="end" font-family='"Liberation Sans", sans-serif' fill="#222" >4</text>
<line x1="452.00" y1="431.68" x2="458.70" y2="431.68" stroke="#262626" stroke-width="1.2" />
<text x="444.20" y="437.88" font-size="12" text-anchor="end" font-family='"Liberation Sans", sans-serif' fill="#222" >6</text>
<line x1="452.00" y1="369.04" x2="458.70" y2="369.04" stroke="#262626" stroke-width="1.2" />
<text x="444.20" y="375.24" font-size="12" text-anchor="end" font-family='"Liberation Sans", sans-serif' fill="#222" >8</text>
<line x1="473.30" y1="630.00" x2="473.30" y2="637.50" stroke="#262626" stroke-width="1.2" />
<text transform="translate(477.00,643.8) rotate(-90)" font-size="11.3" text-anchor="end" font-family='"Liberation Sans", sans-serif' fill="#222">RArmX<tspan font-size="7.0" dy="3.0" stroke="#222" stroke-width="0.3">im</tspan></text>
<line x1="485.50" y1="630.00" x2="485.50" y2="637.50" stroke="#262626" stroke-width="1.2" />
<text transform="translate(489.20,643.8) rotate(-90)" font-size="11.3" text-anchor="end" font-family='"Liberation Sans", sans-serif' fill="#222">RArmY<tspan font-size="7.0" dy="3.0" stroke="#222" stroke-width="0.3">im</tspan></text>
<line x1="509.90" y1="630.00" x2="509.90" y2="637.50" stroke="#262626" stroke-width="1.2" />
<text transform="translate(513.60,643.8) rotate(-90)" font-size="11.3" text-anchor="end" font-family='"Liberation Sans", sans-serif' fill="#222">RElbowX<tspan font-size="7.0" dy="3.0" stroke="#222" stroke-width="0.3">im</tspan></text>
<line x1="522.10" y1="630.00" x2="522.10" y2="637.50" stroke="#262626" stroke-width="1.2" />
<text transform="translate(525.80,643.8) rotate(-90)" font-size="11.3" text-anchor="end" font-family='"Liberation Sans", sans-serif' fill="#222">RElbowY<tspan font-size="7.0" dy="3.0" stroke="#222" stroke-width="0.3">im</tspan></text>
<line x1="546.50" y1="630.00" x2="546.50" y2="637.50" stroke="#262626" stroke-width="1.2" />
<text transform="translate(550.20,643.8) rotate(-90)" font-size="11.3" text-anchor="end" font-family='"Liberation Sans", sans-serif' fill="#222">RHandX<tspan font-size="7.0" dy="3.0" stroke="#222" stroke-width="0.3">im</tspan></text>
<line x1="558.70" y1="630.00" x2="558.70" y2="637.50" stroke="#262626" stroke-width="1.2" />
<text transform="translate(562.40,643.8) rotate(-90)" font-size="11.3" text-anchor="end" font-family='"Liberation Sans", sans-serif' fill="#222">RHandY<tspan font-size="7.0" dy="3.0" stroke="#222" stroke-width="0.3">im</tspan></text>
<line x1="583.10" y1="630.00" x2="583.10" y2="637.50" stroke="#262626" stroke-width="1.2" />
<text transform="translate(586.80,643.8) rotate(-90)" font-size="11.3" text-anchor="end" font-family='"Liberation Sans", sans-serif' fill="#222">LArmX<tspan font-size="7.0" dy="3.0" stroke="#222" stroke-width="0.3">im</tspan></text>
<line x1="595.30" y1="630.00" x2="595.30" y2="637.50" stroke="#262626" stroke-width="1.2" />
<text transform="translate(599.00,643.8) rotate(-90)" font-size="11.3" text-anchor="end" font-family='"Liberation Sans", sans-serif' fill="#222">LArmY<tspan font-size="7.0" dy="3.0" stroke="#222" stroke-width="0.3">im</tspan></text>
<line x1="619.70" y1="630.00" x2="619.70" y2="637.50" stroke="#262626" stroke-width="1.2" />
<text transform="translate(623.40,643.8) rotate(-90)" font-size="11.3" text-anchor="end" font-family='"Liberation Sans", sans-serif' fill="#222">LElbowX<tspan font-size="7.0" dy="3.0" stroke="#222" stroke-width="0.3">im</tspan></text>
<line x1="631.90" y1="630.00" x2="631.90" y2="637.50" stroke="#262626" stroke-width="1.2" />
<text transform="translate(635.60,643.8) rotate(-90)" font-size="11.3" text-anchor="end" font-family='"Liberation Sans", sans-serif' fill="#222">LElbowY<tspan font-size="7.0" dy="3.0" stroke="#222" stroke-width="0.3">im</tspan></text>
<line x1="656.30" y1="630.00" x2="656.30" y2="637.50" stroke="#262626" stroke-width="1.2" />
<text transform="translate(660.00,643.8) rotate(-90)" font-size="11.3" text-anchor="end" font-family='"Liberation Sans", sans-serif' fill="#222">LHandX<tspan font-size="7.0" dy="3.0" stroke="#222" stroke-width="0.3">im</tspan></text>
<line x1="668.50" y1="630.00" x2="668.50" y2="637.50" stroke="#262626" stroke-width="1.2" />
<text transform="translate(672.20,643.8) rotate(-90)" font-size="11.3" text-anchor="end" font-family='"Liberation Sans", sans-serif' fill="#222">LHandY<tspan font-size="7.0" dy="3.0" stroke="#222" stroke-width="0.3">im</tspan></text>
<text transform="translate(414.80,494.10) rotate(-90) scale(1.0,1.12)" font-size="11.64" text-anchor="middle" font-family='"Liberation Sans", sans-serif' fill="#222">Localization Error [pix]</text>
<text x="405.80" y="356.00" font-size="20.5" text-anchor="start" font-family='"Liberation Serif", serif' fill="#111" >d)</text>
</svg></body></html>
